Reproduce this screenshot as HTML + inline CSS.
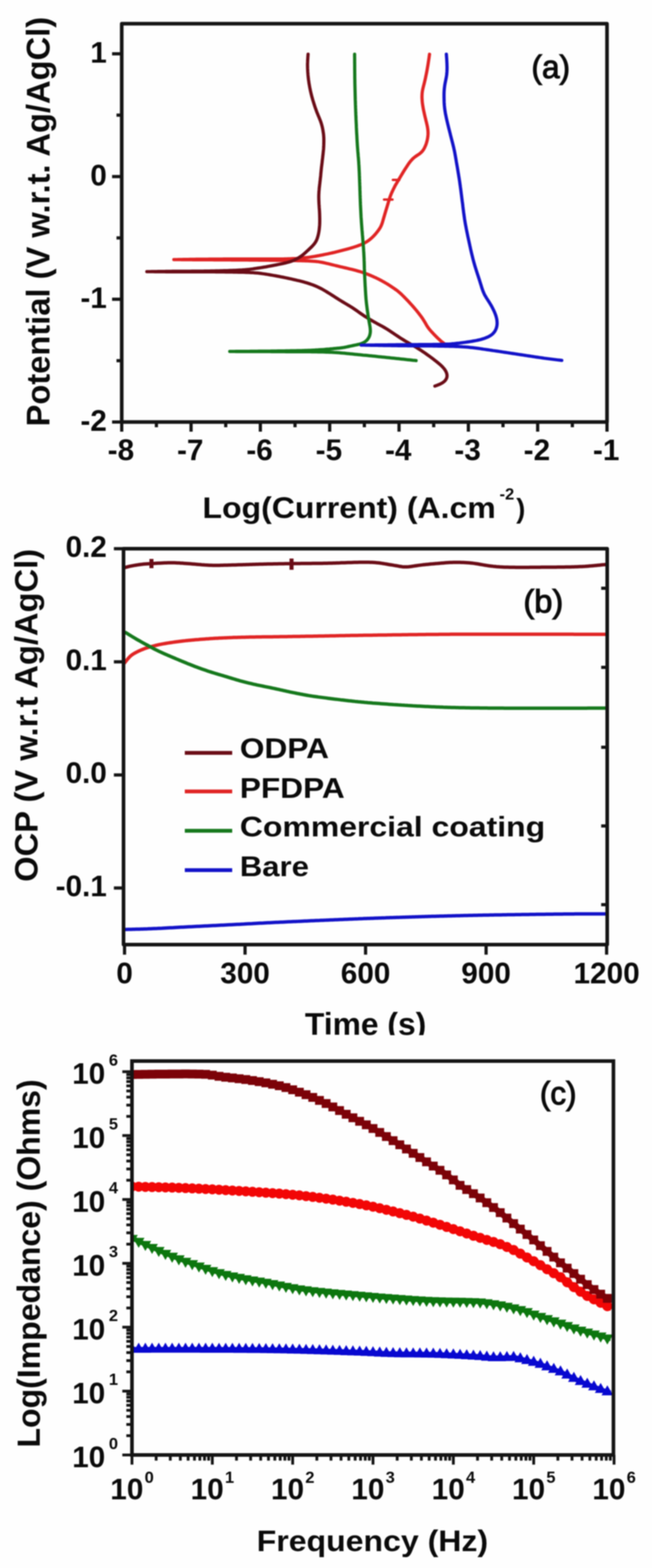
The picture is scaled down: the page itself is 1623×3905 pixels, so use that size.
<!DOCTYPE html>
<html><head><meta charset="utf-8"><title>Figure</title>
<style>html,body{margin:0;padding:0;background:#fff;}svg{display:block;filter:blur(1.7px);}</style></head>
<body><svg width="1623" height="3905" viewBox="0 0 1623 3905">
<rect width="1623" height="3905" fill="#fefefe"/>
<g fill="none" stroke-width="8" stroke-linecap="round" stroke-linejoin="round">
<path d="M1106.0,856.0 L1102.8,853.5 L1099.7,851.1 L1096.6,848.5 L1093.7,845.8 L1090.7,843.1 L1087.9,840.3 L1085.0,837.5 L1082.2,834.6 L1079.4,831.7 L1076.7,828.8 L1074.0,825.9 L1071.3,822.9 L1068.7,819.9 L1066.3,816.7 L1064.0,813.4 L1061.9,810.1 L1059.9,806.6 L1057.9,803.1 L1055.9,799.7 L1053.8,796.3 L1051.6,792.9 L1049.3,789.7 L1046.9,786.4 L1044.5,783.3 L1042.1,780.1 L1039.6,777.0 L1037.1,773.8 L1034.5,770.7 L1031.9,767.7 L1029.3,764.6 L1026.7,761.6 L1024.0,758.6 L1021.3,755.7 L1018.6,752.8 L1015.9,749.8 L1013.1,746.9 L1010.3,744.0 L1007.5,741.2 L1004.7,738.3 L1001.9,735.5 L999.0,732.7 L996.1,730.0 L993.1,727.4 L990.0,724.8 L986.8,722.4 L983.5,720.1 L980.2,717.8 L976.9,715.6 L973.6,713.4 L970.2,711.2 L966.9,709.0 L963.5,706.9 L960.0,704.9 L956.6,702.8 L953.1,700.9 L949.6,698.9 L946.0,697.1 L942.5,695.2 L938.9,693.5 L935.3,691.7 L931.6,690.1 L928.0,688.4 L924.3,686.8 L920.6,685.3 L916.9,683.8 L913.2,682.3 L909.5,680.9 L905.7,679.5 L901.9,678.2 L898.1,677.0 L894.2,675.9 L890.4,674.8 L886.5,673.7 L882.7,672.7 L878.8,671.7 L874.9,670.7 L871.0,669.8 L867.1,668.8 L863.2,667.9 L859.3,667.0 L855.4,666.1 L851.5,665.2 L847.6,664.3 L843.7,663.3 L839.8,662.4 L835.9,661.5 L832.0,660.5 L828.2,659.6 L824.3,658.6 L820.4,657.6 L816.5,656.7 L812.6,655.8 L808.7,654.9 L804.8,654.0 L800.9,653.3 L796.9,652.6 L793.0,651.9 L789.0,651.4 L785.0,651.0 L781.0,650.7 L777.0,650.4 L773.0,650.2 L769.0,650.0 L765.0,649.8 L761.0,649.7 L757.0,649.6 L753.0,649.4 L749.0,649.3 L745.0,649.3 L741.0,649.2 L737.0,649.1 L733.0,649.0 L729.0,648.9 L725.0,648.9 L721.0,648.8 L717.0,648.8 L713.0,648.7 L709.0,648.6 L705.0,648.6 L701.0,648.5 L697.0,648.5 L693.0,648.4 L689.0,648.4 L685.0,648.3 L681.0,648.3 L677.0,648.2 L673.0,648.2 L669.0,648.1 L665.0,648.1 L660.9,648.0 L656.9,648.0 L652.9,647.9 L648.9,647.9 L644.9,647.9 L640.9,647.8 L636.9,647.8 L632.9,647.8 L628.9,647.7 L624.9,647.7 L620.9,647.7 L616.9,647.6 L612.9,647.6 L608.9,647.6 L604.9,647.5 L600.9,647.5 L596.9,647.5 L592.9,647.5 L588.9,647.4 L584.9,647.4 L580.9,647.4 L576.9,647.4 L572.9,647.3 L568.8,647.3 L564.8,647.3 L560.8,647.3 L556.8,647.3 L552.8,647.2 L548.8,647.2 L544.8,647.2 L540.8,647.2 L536.8,647.2 L532.8,647.2 L528.8,647.1 L524.8,647.1 L520.8,647.1 L516.8,647.1 L512.8,647.1 L508.8,647.0 L504.8,647.0 L500.8,647.0 L496.8,647.0 L492.8,647.0 L488.8,646.9 L484.8,646.9 L480.8,646.9 L476.7,646.8 L472.7,646.8 L468.7,646.8 L464.7,646.8 L460.7,646.7 L456.7,646.7 L452.7,646.7 L448.7,646.6 L444.7,646.6 L440.7,646.6 L436.7,646.5 L432.7,646.5 L436.7,646.4 L440.7,646.4 L444.7,646.3 L448.7,646.2 L452.7,646.2 L456.7,646.1 L460.8,646.0 L464.8,646.0 L468.8,645.9 L472.8,645.8 L476.8,645.8 L480.8,645.7 L484.8,645.7 L488.8,645.6 L492.8,645.6 L496.8,645.5 L500.8,645.5 L504.8,645.5 L508.8,645.4 L512.8,645.4 L516.9,645.4 L520.9,645.3 L524.9,645.3 L528.9,645.3 L532.9,645.3 L536.9,645.2 L540.9,645.2 L544.9,645.2 L548.9,645.2 L552.9,645.2 L556.9,645.1 L560.9,645.1 L564.9,645.1 L569.0,645.1 L573.0,645.1 L577.0,645.1 L581.0,645.1 L585.0,645.0 L589.0,645.0 L593.0,645.0 L597.0,645.0 L601.0,645.0 L605.0,645.0 L609.0,645.0 L613.0,645.0 L617.0,645.0 L621.1,645.0 L625.1,645.0 L629.1,645.0 L633.1,645.0 L637.1,645.0 L641.1,645.1 L645.1,645.1 L649.1,645.1 L653.1,645.1 L657.1,645.1 L661.1,645.1 L665.1,645.1 L669.1,645.1 L673.2,645.1 L677.2,645.1 L681.2,645.1 L685.2,645.1 L689.2,645.1 L693.2,645.1 L697.2,645.0 L701.2,645.0 L705.2,644.9 L709.2,644.8 L713.2,644.7 L717.2,644.6 L721.2,644.5 L725.2,644.3 L729.2,644.1 L733.2,643.9 L737.2,643.7 L741.2,643.4 L745.2,643.1 L749.2,642.8 L753.2,642.4 L757.2,642.0 L761.2,641.6 L765.2,641.2 L769.2,640.7 L773.1,640.1 L777.1,639.5 L781.0,638.9 L785.0,638.2 L788.9,637.5 L792.9,636.8 L796.8,636.0 L800.8,635.3 L804.7,634.5 L808.6,633.7 L812.5,632.9 L816.5,632.1 L820.4,631.2 L824.3,630.4 L828.2,629.5 L832.1,628.6 L836.0,627.6 L839.9,626.7 L843.8,625.7 L847.7,624.7 L851.6,623.7 L855.4,622.7 L859.3,621.7 L863.2,620.6 L867.0,619.6 L870.9,618.5 L874.7,617.4 L878.6,616.2 L882.4,615.0 L886.2,613.8 L890.0,612.5 L893.8,611.1 L897.5,609.7 L901.2,608.1 L904.8,606.4 L908.4,604.6 L911.9,602.6 L915.2,600.5 L918.5,598.2 L921.6,595.7 L924.6,593.1 L927.5,590.4 L930.4,587.5 L933.1,584.6 L935.7,581.6 L938.2,578.5 L940.7,575.3 L943.0,572.1 L945.3,568.7 L947.3,565.3 L949.0,561.8 L950.5,558.1 L951.8,554.3 L952.9,550.5 L954.0,546.6 L955.1,542.8 L956.3,539.0 L957.4,535.1 L958.5,531.3 L959.7,527.4 L960.8,523.6 L962.0,519.8 L963.2,515.9 L964.3,512.1 L965.5,508.2 L966.6,504.4 L967.8,500.6 L968.9,496.7 L970.1,492.9 L971.4,489.1 L972.8,485.4 L974.3,481.7 L976.0,478.0 L977.7,474.4 L979.4,470.8 L981.2,467.2 L983.0,463.6 L985.0,460.1 L987.0,456.7 L989.0,453.2 L991.1,449.8 L993.1,446.3 L995.2,442.9 L997.2,439.5 L999.3,436.0 L1001.3,432.6 L1003.4,429.1 L1005.5,425.7 L1007.6,422.3 L1009.8,419.0 L1012.0,415.6 L1014.2,412.3 L1016.4,408.9 L1018.7,405.7 L1021.1,402.5 L1023.7,399.4 L1026.4,396.5 L1029.3,393.7 L1032.3,391.2 L1035.6,388.9 L1038.9,386.7 L1042.2,384.5 L1045.4,382.2 L1048.4,379.6 L1051.1,376.8 L1053.5,373.6 L1055.6,370.3 L1057.4,366.7 L1059.0,363.1 L1060.5,359.4 L1061.7,355.6 L1062.8,351.7 L1063.7,347.8 L1064.4,343.9 L1065.0,340.0 L1065.3,336.0 L1065.5,332.0 L1065.4,328.0 L1065.1,324.0 L1064.6,320.1 L1064.0,316.1 L1063.2,312.2 L1062.3,308.3 L1061.4,304.4 L1060.4,300.5 L1059.5,296.6 L1058.5,292.7 L1057.6,288.8 L1056.7,284.9 L1055.8,281.0 L1055.0,277.1 L1054.1,273.2 L1053.4,269.2 L1052.7,265.3 L1052.1,261.3 L1051.5,257.4 L1051.1,253.4 L1050.8,249.4 L1050.5,245.4 L1050.4,241.4 L1050.5,237.4 L1050.7,233.4 L1051.1,229.5 L1051.7,225.5 L1052.5,221.6 L1053.4,217.7 L1054.4,213.8 L1055.4,209.9 L1056.4,206.1 L1057.3,202.2 L1058.2,198.3 L1059.1,194.3 L1059.9,190.4 L1060.7,186.5 L1061.5,182.6 L1062.3,178.6 L1063.0,174.7 L1063.7,170.7 L1064.4,166.8 L1065.1,162.8 L1065.7,158.9 L1066.3,154.9 L1066.9,151.0 L1067.5,147.0 L1068.1,143.0 L1068.6,139.1 L1069.2,135.1 L1069.2,135.1" stroke="#e02424"/>
<path d="M1082.5,961.6 L1086.3,960.2 L1090.0,958.8 L1093.7,957.3 L1097.3,955.6 L1100.8,953.7 L1104.0,951.5 L1107.0,949.0 L1109.4,946.0 L1111.3,942.8 L1112.5,939.2 L1112.8,935.5 L1112.4,931.8 L1111.3,928.1 L1109.7,924.6 L1107.7,921.2 L1105.3,918.0 L1102.7,915.0 L1100.0,912.1 L1097.1,909.3 L1094.1,906.7 L1091.0,904.1 L1087.9,901.6 L1084.8,899.1 L1081.6,896.7 L1078.4,894.2 L1075.2,891.8 L1072.0,889.4 L1068.8,887.1 L1065.5,884.7 L1062.2,882.4 L1059.0,880.1 L1055.7,877.8 L1052.4,875.6 L1049.0,873.3 L1045.7,871.1 L1042.3,869.0 L1038.9,866.8 L1035.5,864.7 L1032.1,862.7 L1028.6,860.6 L1025.2,858.6 L1021.7,856.6 L1018.2,854.6 L1014.8,852.6 L1011.3,850.6 L1007.8,848.6 L1004.4,846.5 L1001.0,844.4 L997.6,842.3 L994.2,840.1 L990.9,837.9 L987.5,835.7 L984.2,833.5 L980.9,831.2 L977.6,829.0 L974.3,826.8 L970.9,824.5 L967.6,822.3 L964.2,820.2 L960.8,818.1 L957.3,816.0 L953.9,814.0 L950.4,812.1 L946.9,810.2 L943.3,808.3 L939.8,806.4 L936.3,804.4 L932.8,802.5 L929.3,800.5 L925.9,798.5 L922.4,796.4 L919.0,794.4 L915.5,792.3 L912.1,790.2 L908.7,788.1 L905.4,785.9 L902.1,783.7 L898.8,781.4 L895.5,779.1 L892.2,776.8 L889.0,774.4 L885.7,772.1 L882.4,769.9 L879.1,767.6 L875.7,765.4 L872.3,763.3 L868.9,761.2 L865.4,759.2 L862.0,757.1 L858.6,755.1 L855.1,753.0 L851.7,751.0 L848.3,748.9 L844.9,746.8 L841.5,744.6 L838.1,742.5 L834.7,740.3 L831.4,738.1 L828.0,736.0 L824.6,733.8 L821.2,731.7 L817.8,729.6 L814.4,727.5 L811.0,725.4 L807.5,723.4 L804.1,721.4 L800.6,719.4 L797.0,717.6 L793.4,715.8 L789.8,714.1 L786.1,712.5 L782.4,711.0 L778.7,709.5 L774.9,708.2 L771.1,706.9 L767.3,705.6 L763.5,704.4 L759.7,703.3 L755.8,702.2 L752.0,701.1 L748.1,700.1 L744.2,699.2 L740.3,698.3 L736.4,697.3 L732.5,696.5 L728.6,695.6 L724.7,694.7 L720.8,693.8 L716.8,693.0 L712.9,692.2 L709.0,691.3 L705.1,690.5 L701.1,689.8 L697.2,689.0 L693.3,688.2 L689.3,687.5 L685.4,686.8 L681.5,686.1 L677.5,685.4 L673.6,684.7 L669.6,684.0 L665.7,683.4 L661.7,682.7 L657.7,682.1 L653.8,681.6 L649.8,681.0 L645.8,680.5 L641.9,680.1 L637.9,679.7 L633.9,679.4 L629.9,679.1 L625.9,678.9 L621.9,678.7 L617.9,678.5 L613.9,678.4 L609.9,678.3 L605.9,678.1 L601.9,678.1 L597.9,678.0 L593.8,677.9 L589.8,677.8 L585.8,677.7 L581.8,677.7 L577.8,677.6 L573.8,677.5 L569.8,677.5 L565.8,677.4 L561.8,677.4 L557.8,677.3 L553.8,677.3 L549.8,677.3 L545.8,677.2 L541.8,677.2 L537.8,677.2 L533.8,677.1 L529.8,677.1 L525.7,677.1 L521.7,677.0 L517.7,677.0 L513.7,677.0 L509.7,677.0 L505.7,677.0 L501.7,677.0 L497.7,676.9 L493.7,676.9 L489.7,676.9 L485.7,677.0 L481.7,677.0 L477.7,677.0 L473.7,677.0 L469.7,677.0 L465.7,677.0 L461.6,677.0 L457.6,677.0 L453.6,677.0 L449.6,677.0 L445.6,677.0 L441.6,677.0 L437.6,677.0 L433.6,677.0 L429.6,677.0 L425.6,676.9 L421.6,676.9 L417.6,676.9 L413.6,676.9 L409.6,676.8 L405.6,676.8 L401.6,676.8 L397.5,676.7 L393.5,676.7 L389.5,676.7 L385.5,676.7 L381.5,676.6 L377.5,676.6 L373.5,676.6 L369.5,676.5 L365.5,676.5 L369.5,676.4 L373.5,676.4 L377.5,676.3 L381.5,676.3 L385.5,676.2 L389.5,676.2 L393.5,676.1 L397.5,676.0 L401.5,676.0 L405.5,675.9 L409.5,675.9 L413.5,675.8 L417.5,675.8 L421.5,675.7 L425.5,675.7 L429.5,675.6 L433.5,675.6 L437.5,675.5 L441.5,675.5 L445.5,675.5 L449.5,675.4 L453.5,675.4 L457.5,675.4 L461.5,675.4 L465.5,675.4 L469.5,675.4 L473.5,675.4 L477.5,675.3 L481.5,675.3 L485.5,675.3 L489.5,675.3 L493.5,675.3 L497.5,675.2 L501.5,675.2 L505.5,675.2 L509.5,675.1 L513.5,675.0 L517.5,675.0 L521.5,674.9 L525.5,674.8 L529.5,674.7 L533.5,674.7 L537.5,674.6 L541.5,674.5 L545.5,674.4 L549.5,674.3 L553.5,674.2 L557.5,674.1 L561.5,674.0 L565.5,673.9 L569.5,673.7 L573.5,673.6 L577.5,673.5 L581.5,673.3 L585.5,673.2 L589.5,673.0 L593.5,672.8 L597.5,672.6 L601.5,672.4 L605.5,672.1 L609.5,671.8 L613.5,671.4 L617.5,671.1 L621.4,670.6 L625.4,670.1 L629.4,669.6 L633.3,669.0 L637.3,668.4 L641.3,667.8 L645.2,667.2 L649.2,666.6 L653.1,666.0 L657.1,665.3 L661.0,664.7 L664.9,664.0 L668.9,663.2 L672.8,662.5 L676.7,661.8 L680.7,661.0 L684.6,660.2 L688.5,659.5 L692.5,658.7 L696.4,657.9 L700.3,657.1 L704.2,656.3 L708.1,655.4 L712.0,654.5 L715.9,653.5 L719.7,652.4 L723.5,651.2 L727.3,649.9 L731.0,648.4 L734.6,646.7 L738.2,644.9 L741.7,643.0 L745.1,640.9 L748.4,638.7 L751.6,636.4 L754.8,633.9 L757.8,631.3 L760.8,628.7 L763.7,625.9 L766.7,623.2 L769.6,620.5 L772.5,617.8 L775.4,615.0 L778.2,612.1 L780.8,609.2 L783.3,606.0 L785.5,602.7 L787.4,599.3 L789.0,595.7 L790.3,591.9 L791.4,588.1 L792.4,584.2 L793.2,580.3 L793.9,576.4 L794.5,572.4 L794.9,568.5 L795.3,564.5 L795.6,560.5 L795.8,556.5 L795.9,552.5 L795.9,548.5 L795.9,544.5 L795.8,540.5 L795.7,536.5 L795.6,532.5 L795.4,528.5 L795.2,524.5 L794.9,520.5 L794.6,516.5 L794.4,512.5 L794.1,508.5 L793.9,504.5 L793.7,500.5 L793.6,496.5 L793.5,492.5 L793.5,488.5 L793.6,484.6 L793.8,480.6 L794.0,476.6 L794.4,472.6 L794.7,468.6 L795.2,464.6 L795.6,460.6 L796.1,456.7 L796.5,452.7 L797.0,448.7 L797.4,444.7 L797.9,440.8 L798.3,436.8 L798.6,432.8 L799.0,428.8 L799.4,424.8 L799.8,420.9 L800.2,416.9 L800.7,412.9 L801.2,408.9 L801.7,405.0 L802.1,401.0 L802.6,397.0 L803.1,393.0 L803.5,389.1 L804.0,385.1 L804.4,381.1 L804.8,377.1 L805.2,373.1 L805.5,369.2 L805.7,365.2 L805.9,361.2 L806.0,357.2 L806.1,353.2 L806.1,349.2 L806.1,345.2 L805.9,341.2 L805.6,337.2 L805.2,333.2 L804.6,329.3 L804.0,325.3 L803.3,321.4 L802.5,317.5 L801.5,313.6 L800.5,309.7 L799.3,305.9 L798.0,302.1 L796.6,298.4 L795.1,294.7 L793.6,291.0 L792.0,287.3 L790.5,283.6 L789.0,279.9 L787.6,276.1 L786.3,272.4 L784.9,268.6 L783.6,264.8 L782.4,261.0 L781.2,257.2 L780.0,253.4 L778.8,249.6 L777.7,245.7 L776.6,241.9 L775.6,238.0 L774.6,234.1 L773.7,230.2 L772.8,226.3 L772.0,222.4 L771.2,218.5 L770.5,214.6 L769.8,210.6 L769.1,206.7 L768.6,202.7 L768.0,198.8 L767.5,194.8 L767.1,190.8 L766.7,186.8 L766.4,182.8 L766.1,178.8 L765.9,174.9 L765.7,170.9 L765.6,166.9 L765.5,162.9 L765.5,158.9 L765.7,154.9 L765.8,150.9 L766.1,146.9 L766.3,142.9 L766.6,138.9 L766.9,134.9 L766.9,134.9" stroke="#6a0c16"/>
<path d="M1035.8,898.0 L1031.8,897.6 L1027.8,897.2 L1023.8,896.7 L1019.9,896.3 L1015.9,895.9 L1011.9,895.5 L1007.9,895.0 L1003.9,894.6 L999.9,894.2 L995.9,893.8 L992.0,893.3 L988.0,892.9 L984.0,892.5 L980.0,892.1 L976.0,891.7 L972.0,891.3 L968.0,890.8 L964.1,890.4 L960.1,890.0 L956.1,889.6 L952.1,889.2 L948.1,888.8 L944.1,888.4 L940.1,888.0 L936.1,887.5 L932.2,887.1 L928.2,886.7 L924.2,886.3 L920.2,885.9 L916.2,885.5 L912.2,885.1 L908.2,884.7 L904.2,884.4 L900.2,884.0 L896.3,883.6 L892.3,883.2 L888.3,882.8 L884.3,882.4 L880.3,882.0 L876.3,881.6 L872.3,881.2 L868.3,880.8 L864.4,880.4 L860.4,880.0 L856.4,879.6 L852.4,879.3 L848.4,878.9 L844.4,878.6 L840.4,878.3 L836.4,878.0 L832.4,877.8 L828.4,877.5 L824.4,877.3 L820.4,877.2 L816.4,877.0 L812.4,876.9 L808.4,876.7 L804.4,876.6 L800.4,876.5 L796.4,876.4 L792.3,876.4 L788.3,876.3 L784.3,876.2 L780.3,876.2 L776.3,876.2 L772.3,876.1 L768.3,876.1 L764.3,876.1 L760.3,876.0 L756.3,876.0 L752.3,876.0 L748.3,876.0 L744.3,876.0 L740.2,876.0 L736.2,875.9 L732.2,875.9 L728.2,875.9 L724.2,875.9 L720.2,875.9 L716.2,875.9 L712.2,875.9 L708.2,875.8 L704.2,875.8 L700.2,875.8 L696.2,875.8 L692.1,875.8 L688.1,875.7 L684.1,875.7 L680.1,875.7 L676.1,875.7 L672.1,875.6 L668.1,875.6 L664.1,875.6 L660.1,875.6 L656.1,875.6 L652.1,875.6 L648.1,875.5 L644.0,875.5 L640.0,875.5 L636.0,875.5 L632.0,875.5 L628.0,875.5 L624.0,875.5 L620.0,875.5 L616.0,875.4 L612.0,875.4 L608.0,875.4 L604.0,875.4 L600.0,875.4 L596.0,875.4 L591.9,875.4 L587.9,875.4 L583.9,875.3 L579.9,875.3 L575.9,875.3 L571.9,875.3 L571.9,875.3 L575.9,875.2 L579.9,875.2 L583.9,875.2 L587.9,875.1 L591.9,875.1 L595.9,875.1 L599.9,875.0 L603.9,875.0 L607.9,875.0 L611.9,874.9 L615.9,874.9 L619.9,874.9 L623.9,874.8 L627.9,874.8 L631.9,874.8 L635.9,874.7 L639.9,874.7 L643.9,874.6 L647.9,874.6 L651.9,874.6 L655.9,874.5 L659.9,874.5 L663.9,874.4 L667.9,874.4 L671.9,874.4 L675.9,874.3 L679.9,874.3 L683.9,874.2 L687.9,874.2 L691.9,874.1 L695.9,874.1 L699.9,874.0 L704.0,873.9 L708.0,873.9 L712.0,873.8 L716.0,873.8 L720.0,873.7 L724.0,873.6 L728.0,873.6 L732.0,873.5 L736.0,873.4 L740.0,873.3 L744.0,873.3 L748.0,873.2 L752.0,873.1 L756.0,872.9 L760.0,872.8 L764.0,872.7 L768.0,872.5 L772.0,872.4 L776.0,872.2 L780.0,872.0 L783.9,871.8 L787.9,871.5 L791.9,871.3 L795.9,871.0 L799.9,870.7 L803.9,870.5 L807.9,870.2 L811.9,869.8 L815.9,869.5 L819.9,869.2 L823.9,868.8 L827.8,868.5 L831.8,868.1 L835.8,867.7 L839.8,867.3 L843.8,866.9 L847.7,866.5 L851.7,866.0 L855.7,865.4 L859.6,864.7 L863.5,863.9 L867.4,863.0 L871.3,862.1 L875.2,861.3 L879.1,860.5 L883.1,859.7 L887.0,858.9 L890.9,858.0 L894.8,857.1 L898.6,856.0 L902.3,854.6 L905.8,852.9 L909.1,850.8 L912.1,848.3 L914.8,845.4 L917.0,842.3 L918.9,838.8 L920.3,835.2 L921.2,831.4 L921.8,827.5 L921.9,823.5 L921.7,819.6 L921.3,815.6 L920.7,811.7 L920.0,807.7 L919.3,803.8 L918.6,799.9 L917.9,795.9 L917.2,792.0 L916.6,788.0 L916.0,784.1 L915.5,780.1 L914.9,776.1 L914.3,772.2 L913.8,768.2 L913.3,764.2 L912.8,760.3 L912.3,756.3 L911.9,752.3 L911.5,748.3 L911.1,744.4 L910.8,740.4 L910.5,736.4 L910.2,732.4 L910.0,728.4 L909.7,724.4 L909.5,720.4 L909.3,716.4 L909.0,712.4 L908.8,708.4 L908.6,704.4 L908.4,700.4 L908.2,696.4 L908.0,692.4 L907.8,688.4 L907.6,684.4 L907.4,680.4 L907.3,676.4 L907.2,672.4 L907.0,668.4 L906.9,664.4 L906.8,660.4 L906.7,656.4 L906.6,652.4 L906.4,648.4 L906.3,644.4 L906.1,640.4 L905.9,636.4 L905.7,632.4 L905.5,628.5 L905.2,624.5 L905.0,620.5 L904.7,616.5 L904.4,612.5 L904.1,608.5 L903.8,604.5 L903.4,600.5 L903.1,596.5 L902.8,592.5 L902.5,588.6 L902.1,584.6 L901.8,580.6 L901.5,576.6 L901.1,572.6 L900.8,568.6 L900.5,564.6 L900.2,560.6 L899.9,556.6 L899.6,552.6 L899.4,548.7 L899.1,544.7 L898.8,540.7 L898.6,536.7 L898.4,532.7 L898.2,528.7 L898.0,524.7 L897.8,520.7 L897.6,516.7 L897.4,512.7 L897.2,508.7 L897.1,504.7 L896.9,500.7 L896.8,496.7 L896.6,492.7 L896.5,488.7 L896.3,484.7 L896.2,480.7 L896.1,476.7 L895.9,472.7 L895.8,468.7 L895.7,464.7 L895.5,460.7 L895.4,456.7 L895.2,452.7 L895.1,448.7 L894.9,444.7 L894.8,440.7 L894.6,436.7 L894.5,432.7 L894.3,428.7 L894.1,424.7 L893.9,420.7 L893.7,416.7 L893.5,412.7 L893.2,408.7 L893.0,404.7 L892.7,400.8 L892.4,396.8 L892.1,392.8 L891.7,388.8 L891.4,384.8 L891.1,380.8 L890.7,376.8 L890.4,372.8 L890.1,368.8 L889.8,364.9 L889.5,360.9 L889.3,356.9 L889.0,352.9 L888.8,348.9 L888.6,344.9 L888.4,340.9 L888.2,336.9 L887.9,332.9 L887.7,328.9 L887.5,324.9 L887.3,320.9 L887.1,316.9 L887.0,312.9 L886.8,308.9 L886.6,304.9 L886.4,300.9 L886.2,296.9 L886.1,292.9 L885.9,288.9 L885.7,284.9 L885.6,280.9 L885.4,276.9 L885.3,272.9 L885.1,268.9 L885.0,264.9 L884.8,260.9 L884.7,256.9 L884.6,252.9 L884.4,248.9 L884.3,244.9 L884.2,240.9 L884.1,236.9 L884.0,232.9 L883.9,228.9 L883.8,224.9 L883.7,220.9 L883.6,216.9 L883.5,212.9 L883.4,208.9 L883.3,204.9 L883.3,200.9 L883.2,196.9 L883.1,192.9 L883.1,188.9 L883.1,184.9 L883.0,180.9 L883.0,176.9 L882.9,172.9 L882.9,168.9 L882.9,164.9 L882.9,160.9 L882.8,156.9 L882.8,152.9 L882.8,148.9 L882.8,144.9 L882.7,140.9 L882.7,136.9 L882.7,134.9" stroke="#15781c"/>
<path d="M1398.4,897.5 L1394.4,897.0 L1390.4,896.6 L1386.4,896.1 L1382.5,895.6 L1378.5,895.1 L1374.5,894.6 L1370.5,894.1 L1366.5,893.6 L1362.5,893.1 L1358.6,892.6 L1354.6,892.1 L1350.6,891.5 L1346.6,890.9 L1342.7,890.4 L1338.7,889.8 L1334.7,889.2 L1330.7,888.6 L1326.8,888.0 L1322.8,887.4 L1318.8,886.8 L1314.9,886.2 L1310.9,885.6 L1306.9,885.0 L1303.0,884.4 L1299.0,883.8 L1295.0,883.2 L1291.0,882.6 L1287.1,882.0 L1283.1,881.4 L1279.1,880.8 L1275.2,880.2 L1271.2,879.6 L1267.2,879.0 L1263.3,878.4 L1259.3,877.8 L1255.3,877.2 L1251.4,876.6 L1247.4,876.0 L1243.4,875.4 L1239.4,874.8 L1235.5,874.2 L1231.5,873.6 L1227.5,873.1 L1223.6,872.5 L1219.6,871.9 L1215.6,871.3 L1211.6,870.7 L1207.7,870.1 L1203.7,869.6 L1199.7,869.0 L1195.8,868.4 L1191.8,867.8 L1187.8,867.3 L1183.8,866.8 L1179.8,866.3 L1175.8,865.8 L1171.9,865.4 L1167.9,865.0 L1163.9,864.6 L1159.9,864.2 L1155.9,863.9 L1151.9,863.7 L1147.9,863.4 L1143.8,863.2 L1139.8,863.0 L1135.8,862.9 L1131.8,862.7 L1127.8,862.6 L1123.8,862.5 L1119.8,862.4 L1115.8,862.3 L1111.7,862.2 L1107.7,862.2 L1103.7,862.1 L1099.7,862.0 L1095.7,861.9 L1091.7,861.9 L1087.7,861.8 L1083.7,861.7 L1079.6,861.7 L1075.6,861.6 L1071.6,861.6 L1067.6,861.6 L1063.6,861.5 L1059.6,861.5 L1055.6,861.5 L1051.5,861.4 L1047.5,861.4 L1043.5,861.4 L1039.5,861.3 L1035.5,861.3 L1031.5,861.3 L1027.5,861.3 L1023.4,861.2 L1019.4,861.2 L1015.4,861.2 L1011.4,861.1 L1007.4,861.1 L1003.4,861.0 L999.4,861.0 L995.3,860.9 L991.3,860.9 L987.3,860.8 L983.3,860.8 L979.3,860.7 L975.3,860.7 L971.3,860.6 L967.2,860.5 L963.2,860.5 L959.2,860.4 L955.2,860.4 L951.2,860.3 L947.2,860.2 L943.2,860.2 L939.1,860.1 L935.1,860.1 L931.1,860.0 L927.1,859.9 L923.1,859.9 L919.1,859.8 L915.1,859.7 L911.0,859.7 L907.0,859.6 L903.0,859.6 L899.0,859.5 L903.0,859.5 L907.0,859.4 L911.0,859.4 L915.0,859.3 L919.0,859.3 L923.0,859.3 L927.0,859.2 L931.0,859.2 L935.0,859.1 L939.0,859.1 L943.0,859.1 L947.0,859.0 L951.0,859.0 L955.0,858.9 L959.0,858.9 L963.0,858.9 L967.0,858.8 L971.0,858.8 L975.0,858.7 L979.0,858.7 L983.0,858.7 L987.0,858.6 L991.0,858.6 L995.0,858.6 L999.0,858.5 L1003.0,858.5 L1007.0,858.4 L1011.0,858.4 L1015.0,858.4 L1019.0,858.3 L1023.0,858.3 L1027.0,858.3 L1031.0,858.2 L1035.0,858.2 L1039.0,858.2 L1043.0,858.1 L1047.0,858.1 L1051.0,858.1 L1055.0,858.0 L1059.0,858.0 L1063.0,858.0 L1067.0,857.9 L1071.0,857.9 L1075.0,857.9 L1079.0,857.8 L1083.0,857.8 L1087.0,857.7 L1091.0,857.7 L1095.0,857.6 L1099.0,857.5 L1103.0,857.4 L1107.0,857.3 L1111.0,857.1 L1115.0,856.9 L1119.0,856.7 L1123.0,856.4 L1127.0,856.0 L1130.9,855.7 L1134.9,855.3 L1138.9,854.8 L1142.9,854.4 L1146.8,853.9 L1150.8,853.4 L1154.8,852.9 L1158.7,852.4 L1162.7,851.8 L1166.7,851.2 L1170.6,850.6 L1174.6,850.0 L1178.5,849.3 L1182.4,848.6 L1186.4,847.9 L1190.3,847.0 L1194.2,846.1 L1198.0,845.1 L1201.9,843.9 L1205.7,842.7 L1209.4,841.3 L1213.1,839.8 L1216.7,838.1 L1220.1,836.2 L1223.4,834.0 L1226.4,831.5 L1229.1,828.6 L1231.5,825.5 L1233.4,822.1 L1235.0,818.5 L1236.2,814.7 L1237.0,810.9 L1237.4,807.0 L1237.4,803.0 L1237.1,799.1 L1236.6,795.1 L1235.7,791.2 L1234.7,787.4 L1233.4,783.6 L1232.0,779.9 L1230.5,776.2 L1228.8,772.6 L1227.0,769.0 L1225.2,765.4 L1223.3,761.9 L1221.3,758.5 L1219.2,755.0 L1217.1,751.6 L1215.0,748.3 L1212.8,744.9 L1210.6,741.6 L1208.6,738.1 L1206.6,734.7 L1204.9,731.1 L1203.3,727.4 L1201.8,723.7 L1200.5,719.9 L1199.2,716.1 L1198.1,712.3 L1196.9,708.5 L1195.7,704.7 L1194.5,700.9 L1193.3,697.0 L1192.1,693.2 L1190.8,689.4 L1189.6,685.6 L1188.3,681.8 L1187.1,678.0 L1185.9,674.2 L1184.7,670.4 L1183.5,666.6 L1182.3,662.8 L1181.2,658.9 L1180.1,655.1 L1179.0,651.2 L1178.0,647.4 L1177.0,643.5 L1176.0,639.6 L1175.1,635.7 L1174.1,631.8 L1173.2,627.9 L1172.3,624.0 L1171.4,620.1 L1170.6,616.2 L1169.7,612.3 L1168.9,608.4 L1168.0,604.5 L1167.2,600.6 L1166.3,596.7 L1165.5,592.8 L1164.6,588.9 L1163.8,585.0 L1163.0,581.0 L1162.2,577.1 L1161.4,573.2 L1160.6,569.3 L1159.9,565.3 L1159.1,561.4 L1158.4,557.5 L1157.7,553.5 L1157.1,549.6 L1156.4,545.6 L1155.9,541.7 L1155.3,537.7 L1154.8,533.8 L1154.2,529.8 L1153.7,525.8 L1153.2,521.9 L1152.7,517.9 L1152.2,513.9 L1151.8,509.9 L1151.3,506.0 L1150.7,502.0 L1150.2,498.0 L1149.7,494.1 L1149.2,490.1 L1148.7,486.1 L1148.2,482.2 L1147.7,478.2 L1147.2,474.2 L1146.7,470.3 L1146.1,466.3 L1145.6,462.3 L1145.0,458.4 L1144.5,454.4 L1143.9,450.5 L1143.3,446.5 L1142.7,442.6 L1142.0,438.6 L1141.4,434.7 L1140.7,430.7 L1140.1,426.8 L1139.4,422.8 L1138.8,418.9 L1138.1,414.9 L1137.4,411.0 L1136.7,407.0 L1136.0,403.1 L1135.4,399.2 L1134.7,395.2 L1134.0,391.3 L1133.3,387.3 L1132.6,383.4 L1131.9,379.5 L1131.1,375.5 L1130.2,371.6 L1129.4,367.7 L1128.4,363.8 L1127.5,360.0 L1126.5,356.1 L1125.5,352.2 L1124.5,348.3 L1123.5,344.5 L1122.5,340.6 L1121.5,336.7 L1120.6,332.8 L1119.6,329.0 L1118.6,325.1 L1117.6,321.2 L1116.6,317.3 L1115.7,313.4 L1114.7,309.5 L1113.8,305.7 L1112.9,301.8 L1112.0,297.9 L1111.1,294.0 L1110.3,290.0 L1109.5,286.1 L1108.7,282.2 L1108.1,278.3 L1107.5,274.3 L1106.9,270.3 L1106.5,266.4 L1106.1,262.4 L1105.8,258.4 L1105.6,254.4 L1105.5,250.4 L1105.4,246.4 L1105.3,242.4 L1105.3,238.4 L1105.3,234.4 L1105.4,230.4 L1105.6,226.4 L1105.9,222.4 L1106.3,218.5 L1106.8,214.5 L1107.4,210.5 L1108.1,206.6 L1108.9,202.7 L1109.7,198.8 L1110.5,194.9 L1111.2,190.9 L1111.8,187.0 L1112.2,183.0 L1112.5,179.0 L1112.7,175.0 L1112.8,171.0 L1112.8,167.0 L1112.7,163.0 L1112.6,159.0 L1112.4,155.1 L1112.2,151.1 L1112.0,147.1 L1111.7,143.1 L1111.4,139.1 L1111.1,135.1 L1111.1,135.1" stroke="#1212c8"/>
<path d="M978,448H994M956,497H977" stroke="#e02424" stroke-width="6"/>
</g>
<rect x="303" y="59" width="1208" height="992" fill="none" stroke="#141414" stroke-width="9" stroke-linejoin="round"/>
<path d="M303.0,1051V1075 M389.3,1051V1064 M475.6,1051V1075 M561.9,1051V1064 M648.1,1051V1075 M734.4,1051V1064 M820.7,1051V1075 M907.0,1051V1064 M993.3,1051V1075 M1079.6,1051V1064 M1165.9,1051V1075 M1252.1,1051V1064 M1338.4,1051V1075 M1424.7,1051V1064 M1511.0,1051V1075 M303,134.0H279 M303,439.7H279 M303,745.3H279 M303,1051.0H279 M303,286.8H290 M303,592.5H290 M303,898.2H290" stroke="#141414" stroke-width="8" fill="none"/>
<g fill="none" stroke-width="8.5" stroke-linejoin="round">
<path d="M311.0,1413.4 L314.9,1412.4 L318.7,1411.4 L322.6,1410.4 L326.5,1409.6 L330.5,1408.8 L334.4,1408.1 L338.4,1407.5 L342.3,1406.9 L346.3,1406.3 L350.2,1405.7 L354.2,1405.3 L358.2,1404.8 L362.2,1404.5 L366.2,1404.2 L370.2,1403.9 L374.2,1403.7 L378.2,1403.5 L382.2,1403.3 L386.1,1403.1 L390.1,1402.8 L394.1,1402.6 L398.1,1402.4 L402.1,1402.2 L406.1,1402.0 L410.1,1401.8 L414.1,1401.7 L418.1,1401.5 L422.1,1401.5 L426.1,1401.4 L430.1,1401.5 L434.1,1401.6 L438.1,1401.7 L442.1,1401.9 L446.1,1402.1 L450.1,1402.4 L454.1,1402.6 L458.1,1402.9 L462.1,1403.2 L466.1,1403.5 L470.1,1403.8 L474.1,1404.1 L478.1,1404.4 L482.1,1404.7 L486.0,1405.1 L490.0,1405.4 L494.0,1405.8 L498.0,1406.1 L502.0,1406.5 L506.0,1406.8 L510.0,1407.1 L514.0,1407.3 L518.0,1407.5 L522.0,1407.7 L526.0,1407.8 L530.0,1407.9 L534.0,1407.9 L538.0,1408.0 L542.0,1407.9 L546.0,1407.9 L550.0,1407.8 L554.0,1407.7 L558.0,1407.6 L562.0,1407.5 L566.0,1407.4 L570.0,1407.3 L574.0,1407.2 L578.0,1407.1 L582.0,1407.0 L586.0,1406.9 L590.0,1406.7 L594.0,1406.6 L598.0,1406.5 L602.0,1406.4 L606.0,1406.3 L610.0,1406.2 L614.0,1406.0 L618.0,1405.9 L622.0,1405.8 L626.0,1405.7 L630.0,1405.5 L634.0,1405.4 L638.0,1405.3 L642.0,1405.2 L646.0,1405.1 L650.0,1405.0 L654.0,1404.9 L658.0,1404.8 L662.0,1404.7 L666.0,1404.6 L670.0,1404.6 L674.0,1404.5 L678.0,1404.4 L682.0,1404.3 L686.0,1404.2 L690.0,1404.2 L694.0,1404.1 L698.0,1404.0 L702.0,1404.0 L706.0,1403.9 L710.0,1403.8 L714.0,1403.8 L718.0,1403.7 L722.0,1403.7 L726.0,1403.6 L730.0,1403.5 L734.1,1403.5 L738.1,1403.5 L742.1,1403.4 L746.1,1403.4 L750.1,1403.3 L754.1,1403.3 L758.1,1403.3 L762.1,1403.3 L766.1,1403.2 L770.1,1403.2 L774.1,1403.2 L778.1,1403.1 L782.1,1403.1 L786.1,1403.1 L790.1,1403.0 L794.1,1403.0 L798.1,1402.9 L802.1,1402.9 L806.1,1402.8 L810.1,1402.7 L814.1,1402.7 L818.1,1402.6 L822.1,1402.5 L826.1,1402.4 L830.1,1402.3 L834.1,1402.2 L838.1,1402.0 L842.1,1401.9 L846.1,1401.8 L850.1,1401.6 L854.1,1401.5 L858.1,1401.4 L862.1,1401.2 L866.1,1401.1 L870.1,1401.0 L874.1,1400.9 L878.1,1400.7 L882.1,1400.6 L886.1,1400.5 L890.1,1400.4 L894.1,1400.3 L898.1,1400.3 L902.1,1400.2 L906.1,1400.2 L910.1,1400.2 L914.1,1400.2 L918.1,1400.3 L922.1,1400.4 L926.1,1400.5 L930.1,1400.8 L934.1,1401.1 L938.1,1401.4 L942.1,1401.8 L946.1,1402.3 L950.0,1402.9 L954.0,1403.5 L957.9,1404.1 L961.9,1404.8 L965.8,1405.5 L969.8,1406.2 L973.7,1406.8 L977.7,1407.4 L981.6,1408.1 L985.6,1408.7 L989.5,1409.4 L993.4,1410.2 L997.4,1410.8 L1001.3,1411.4 L1005.3,1411.7 L1009.3,1411.8 L1013.3,1411.7 L1017.3,1411.5 L1021.3,1411.1 L1025.2,1410.5 L1029.2,1409.9 L1033.1,1409.3 L1037.1,1408.7 L1041.1,1408.1 L1045.0,1407.6 L1049.0,1407.1 L1053.0,1406.6 L1057.0,1406.2 L1060.9,1405.8 L1064.9,1405.4 L1068.9,1405.0 L1072.9,1404.6 L1076.9,1404.3 L1080.9,1403.9 L1084.8,1403.6 L1088.8,1403.3 L1092.8,1402.9 L1096.8,1402.6 L1100.8,1402.2 L1104.8,1401.9 L1108.8,1401.6 L1112.8,1401.3 L1116.8,1401.0 L1120.8,1400.8 L1124.8,1400.7 L1128.8,1400.6 L1132.8,1400.5 L1136.8,1400.5 L1140.8,1400.5 L1144.8,1400.6 L1148.8,1400.7 L1152.8,1400.8 L1156.8,1401.0 L1160.8,1401.2 L1164.8,1401.5 L1168.7,1401.8 L1172.7,1402.2 L1176.7,1402.6 L1180.7,1403.1 L1184.6,1403.7 L1188.6,1404.3 L1192.5,1405.0 L1196.5,1405.7 L1200.4,1406.4 L1204.4,1407.1 L1208.3,1407.8 L1212.3,1408.4 L1216.2,1409.0 L1220.2,1409.5 L1224.2,1409.9 L1228.1,1410.4 L1232.1,1410.8 L1236.1,1411.2 L1240.1,1411.5 L1244.1,1411.8 L1248.1,1412.0 L1252.1,1412.2 L1256.1,1412.4 L1260.1,1412.5 L1264.1,1412.6 L1268.1,1412.7 L1272.1,1412.7 L1276.1,1412.8 L1280.1,1412.8 L1284.1,1412.9 L1288.1,1412.9 L1292.1,1412.9 L1296.1,1412.9 L1300.1,1412.9 L1304.1,1412.9 L1308.1,1412.9 L1312.1,1412.9 L1316.1,1412.9 L1320.1,1412.8 L1324.1,1412.8 L1328.1,1412.8 L1332.1,1412.8 L1336.1,1412.7 L1340.1,1412.7 L1344.1,1412.7 L1348.1,1412.6 L1352.1,1412.6 L1356.1,1412.6 L1360.1,1412.6 L1364.1,1412.5 L1368.1,1412.5 L1372.2,1412.5 L1376.2,1412.4 L1380.2,1412.4 L1384.2,1412.4 L1388.2,1412.3 L1392.2,1412.3 L1396.2,1412.3 L1400.2,1412.2 L1404.2,1412.2 L1408.2,1412.1 L1412.2,1412.1 L1416.2,1412.0 L1420.2,1411.9 L1424.2,1411.8 L1428.2,1411.7 L1432.2,1411.6 L1436.2,1411.5 L1440.2,1411.3 L1444.2,1411.1 L1448.2,1410.9 L1452.2,1410.7 L1456.2,1410.5 L1460.2,1410.2 L1464.2,1409.9 L1468.1,1409.6 L1472.1,1409.3 L1476.1,1408.9 L1480.1,1408.6 L1484.1,1408.2 L1488.1,1407.8 L1492.1,1407.4 L1496.0,1407.0 L1500.0,1406.6 L1504.0,1406.3 L1508.0,1405.9 L1508.0,1405.9" stroke="#6a0c16"/>
<path d="M309.4,1652.0 L311.8,1648.8 L314.3,1645.7 L316.8,1642.5 L319.4,1639.5 L322.1,1636.6 L324.9,1633.8 L328.0,1631.3 L331.3,1629.0 L334.7,1626.9 L338.2,1625.0 L341.7,1623.2 L345.4,1621.4 L349.0,1619.8 L352.7,1618.2 L356.4,1616.7 L360.1,1615.3 L363.9,1614.0 L367.7,1612.7 L371.5,1611.6 L375.4,1610.5 L379.3,1609.5 L383.1,1608.5 L387.0,1607.5 L390.9,1606.6 L394.8,1605.7 L398.7,1604.9 L402.6,1604.1 L406.6,1603.4 L410.5,1602.7 L414.5,1602.0 L418.4,1601.4 L422.4,1600.8 L426.3,1600.2 L430.3,1599.6 L434.2,1599.0 L438.2,1598.5 L442.2,1598.0 L446.1,1597.5 L450.1,1597.0 L454.1,1596.5 L458.1,1596.1 L462.0,1595.6 L466.0,1595.2 L470.0,1594.8 L474.0,1594.4 L478.0,1594.1 L482.0,1593.7 L485.9,1593.3 L489.9,1593.0 L493.9,1592.7 L497.9,1592.3 L501.9,1592.0 L505.9,1591.7 L509.9,1591.4 L513.9,1591.1 L517.9,1590.9 L521.8,1590.6 L525.8,1590.3 L529.8,1590.1 L533.8,1589.8 L537.8,1589.6 L541.8,1589.4 L545.8,1589.1 L549.8,1588.9 L553.8,1588.7 L557.8,1588.6 L561.8,1588.4 L565.8,1588.2 L569.8,1588.1 L573.8,1587.9 L577.8,1587.8 L581.8,1587.6 L585.8,1587.5 L589.8,1587.4 L593.8,1587.3 L597.8,1587.2 L601.8,1587.1 L605.8,1587.0 L609.8,1586.9 L613.8,1586.8 L617.8,1586.7 L621.8,1586.6 L625.8,1586.5 L629.8,1586.5 L633.8,1586.4 L637.8,1586.3 L641.8,1586.3 L645.8,1586.2 L649.8,1586.2 L653.8,1586.1 L657.8,1586.1 L661.8,1586.0 L665.8,1586.0 L669.8,1586.0 L673.8,1585.9 L677.8,1585.9 L681.8,1585.8 L685.8,1585.8 L689.8,1585.7 L693.8,1585.7 L697.8,1585.6 L701.8,1585.6 L705.8,1585.5 L709.8,1585.5 L713.8,1585.4 L717.8,1585.3 L721.8,1585.3 L725.8,1585.2 L729.8,1585.1 L733.8,1585.1 L737.8,1585.0 L741.8,1585.0 L745.8,1584.9 L749.8,1584.8 L753.8,1584.8 L757.8,1584.7 L761.8,1584.6 L765.8,1584.6 L769.8,1584.5 L773.8,1584.4 L777.8,1584.4 L781.8,1584.3 L785.8,1584.2 L789.8,1584.2 L793.8,1584.1 L797.8,1584.0 L801.8,1584.0 L805.8,1583.9 L809.8,1583.8 L813.8,1583.8 L817.8,1583.7 L821.8,1583.6 L825.8,1583.5 L829.8,1583.4 L833.8,1583.4 L837.8,1583.3 L841.8,1583.2 L845.8,1583.1 L849.8,1583.0 L853.8,1583.0 L857.8,1582.9 L861.8,1582.8 L865.8,1582.7 L869.8,1582.7 L873.8,1582.6 L877.8,1582.5 L881.8,1582.5 L885.8,1582.4 L889.8,1582.4 L893.8,1582.3 L897.8,1582.2 L901.8,1582.2 L905.8,1582.1 L909.8,1582.1 L913.8,1582.0 L917.8,1582.0 L921.8,1581.9 L925.8,1581.9 L929.8,1581.8 L933.8,1581.8 L937.8,1581.7 L941.8,1581.6 L945.8,1581.6 L949.8,1581.5 L953.8,1581.5 L957.8,1581.4 L961.8,1581.4 L965.8,1581.3 L969.8,1581.2 L973.8,1581.2 L977.9,1581.1 L981.9,1581.1 L985.9,1581.0 L989.9,1581.0 L993.9,1580.9 L997.9,1580.9 L1001.9,1580.8 L1005.9,1580.8 L1009.9,1580.7 L1013.9,1580.7 L1017.9,1580.6 L1021.9,1580.6 L1025.9,1580.5 L1029.9,1580.5 L1033.9,1580.4 L1037.9,1580.4 L1041.9,1580.3 L1045.9,1580.3 L1049.9,1580.2 L1053.9,1580.2 L1057.9,1580.2 L1061.9,1580.1 L1065.9,1580.1 L1069.9,1580.0 L1073.9,1580.0 L1077.9,1580.0 L1081.9,1579.9 L1085.9,1579.9 L1089.9,1579.9 L1093.9,1579.8 L1097.9,1579.8 L1101.9,1579.8 L1105.9,1579.7 L1109.9,1579.7 L1113.9,1579.7 L1117.9,1579.7 L1121.9,1579.6 L1125.9,1579.6 L1129.9,1579.6 L1133.9,1579.6 L1137.9,1579.6 L1141.9,1579.5 L1145.9,1579.5 L1149.9,1579.5 L1153.9,1579.5 L1157.9,1579.5 L1161.9,1579.5 L1165.9,1579.5 L1169.9,1579.4 L1173.9,1579.4 L1177.9,1579.4 L1181.9,1579.4 L1185.9,1579.4 L1189.9,1579.4 L1193.9,1579.4 L1197.9,1579.4 L1201.9,1579.4 L1205.9,1579.4 L1209.9,1579.4 L1213.9,1579.4 L1217.9,1579.4 L1221.9,1579.4 L1225.9,1579.4 L1229.9,1579.4 L1233.9,1579.4 L1237.9,1579.4 L1241.9,1579.4 L1245.9,1579.4 L1249.9,1579.4 L1253.9,1579.4 L1257.9,1579.4 L1261.9,1579.4 L1265.9,1579.4 L1269.9,1579.4 L1273.9,1579.4 L1277.9,1579.4 L1281.9,1579.4 L1285.9,1579.4 L1289.9,1579.4 L1293.9,1579.4 L1297.9,1579.4 L1301.9,1579.4 L1305.9,1579.4 L1309.9,1579.4 L1313.9,1579.4 L1317.9,1579.5 L1321.9,1579.5 L1325.9,1579.5 L1329.9,1579.5 L1333.9,1579.5 L1337.9,1579.5 L1342.0,1579.5 L1346.0,1579.5 L1350.0,1579.5 L1354.0,1579.5 L1358.0,1579.5 L1362.0,1579.5 L1366.0,1579.5 L1370.0,1579.5 L1374.0,1579.5 L1378.0,1579.6 L1382.0,1579.6 L1386.0,1579.6 L1390.0,1579.6 L1394.0,1579.6 L1398.0,1579.6 L1402.0,1579.6 L1406.0,1579.6 L1410.0,1579.6 L1414.0,1579.6 L1418.0,1579.6 L1422.0,1579.6 L1426.0,1579.6 L1430.0,1579.7 L1434.0,1579.7 L1438.0,1579.7 L1442.0,1579.7 L1446.0,1579.7 L1450.0,1579.7 L1454.0,1579.7 L1458.0,1579.7 L1462.0,1579.7 L1466.0,1579.7 L1470.0,1579.7 L1474.0,1579.7 L1478.0,1579.8 L1482.0,1579.8 L1486.0,1579.8 L1490.0,1579.8 L1494.0,1579.8 L1498.0,1579.8 L1502.0,1579.8 L1506.0,1579.8 L1508.0,1579.8" stroke="#e02424"/>
<path d="M310.6,1574.0 L314.0,1576.1 L317.4,1578.2 L320.8,1580.3 L324.2,1582.4 L327.6,1584.5 L331.1,1586.6 L334.5,1588.6 L337.9,1590.7 L341.4,1592.7 L344.9,1594.7 L348.4,1596.6 L351.8,1598.6 L355.3,1600.6 L358.8,1602.5 L362.3,1604.4 L365.9,1606.3 L369.4,1608.3 L372.9,1610.2 L376.4,1612.1 L379.9,1614.0 L383.5,1615.9 L387.0,1617.7 L390.6,1619.5 L394.2,1621.3 L397.8,1623.0 L401.4,1624.7 L405.1,1626.3 L408.7,1628.0 L412.4,1629.6 L416.0,1631.2 L419.7,1632.8 L423.4,1634.3 L427.1,1635.9 L430.8,1637.5 L434.5,1639.0 L438.1,1640.6 L441.8,1642.1 L445.5,1643.7 L449.2,1645.2 L452.9,1646.8 L456.6,1648.3 L460.3,1649.8 L464.0,1651.3 L467.7,1652.9 L471.4,1654.3 L475.1,1655.8 L478.9,1657.3 L482.6,1658.7 L486.3,1660.2 L490.1,1661.6 L493.8,1662.9 L497.6,1664.3 L501.4,1665.7 L505.1,1667.0 L508.9,1668.3 L512.7,1669.6 L516.5,1670.9 L520.3,1672.2 L524.1,1673.4 L527.9,1674.6 L531.7,1675.8 L535.6,1677.0 L539.4,1678.1 L543.2,1679.3 L547.1,1680.4 L550.9,1681.5 L554.8,1682.6 L558.6,1683.8 L562.4,1684.9 L566.3,1686.1 L570.1,1687.3 L573.9,1688.4 L577.7,1689.6 L581.6,1690.8 L585.4,1691.9 L589.2,1693.1 L593.1,1694.2 L596.9,1695.3 L600.8,1696.3 L604.7,1697.4 L608.5,1698.4 L612.4,1699.4 L616.3,1700.4 L620.2,1701.3 L624.1,1702.2 L628.0,1703.2 L631.9,1704.1 L635.8,1704.9 L639.7,1705.8 L643.6,1706.6 L647.5,1707.4 L651.4,1708.2 L655.4,1709.0 L659.3,1709.8 L663.2,1710.6 L667.1,1711.4 L671.1,1712.2 L675.0,1713.0 L678.9,1713.8 L682.8,1714.6 L686.7,1715.5 L690.6,1716.3 L694.5,1717.2 L698.4,1718.1 L702.3,1718.9 L706.2,1719.8 L710.2,1720.7 L714.1,1721.6 L718.0,1722.4 L721.9,1723.3 L725.8,1724.1 L729.7,1724.9 L733.6,1725.7 L737.6,1726.5 L741.5,1727.3 L745.4,1728.0 L749.3,1728.8 L753.3,1729.5 L757.2,1730.3 L761.1,1731.0 L765.1,1731.7 L769.0,1732.4 L773.0,1733.0 L776.9,1733.6 L780.9,1734.2 L784.9,1734.8 L788.8,1735.3 L792.8,1735.9 L796.8,1736.4 L800.7,1736.9 L804.7,1737.4 L808.7,1737.9 L812.6,1738.4 L816.6,1739.0 L820.6,1739.5 L824.5,1740.0 L828.5,1740.5 L832.5,1741.0 L836.5,1741.4 L840.4,1741.9 L844.4,1742.4 L848.4,1742.9 L852.4,1743.3 L856.3,1743.8 L860.3,1744.3 L864.3,1744.7 L868.3,1745.2 L872.2,1745.6 L876.2,1746.0 L880.2,1746.4 L884.2,1746.9 L888.2,1747.3 L892.1,1747.7 L896.1,1748.0 L900.1,1748.4 L904.1,1748.8 L908.1,1749.2 L912.1,1749.5 L916.1,1749.9 L920.0,1750.2 L924.0,1750.5 L928.0,1750.9 L932.0,1751.2 L936.0,1751.5 L940.0,1751.8 L944.0,1752.1 L948.0,1752.4 L952.0,1752.7 L956.0,1753.0 L959.9,1753.3 L963.9,1753.6 L967.9,1753.9 L971.9,1754.2 L975.9,1754.5 L979.9,1754.8 L983.9,1755.0 L987.9,1755.3 L991.9,1755.6 L995.9,1755.8 L999.9,1756.1 L1003.9,1756.3 L1007.9,1756.6 L1011.9,1756.8 L1015.8,1757.1 L1019.8,1757.3 L1023.8,1757.5 L1027.8,1757.8 L1031.8,1758.0 L1035.8,1758.2 L1039.8,1758.4 L1043.8,1758.6 L1047.8,1758.8 L1051.8,1759.0 L1055.8,1759.2 L1059.8,1759.4 L1063.8,1759.6 L1067.8,1759.8 L1071.8,1760.0 L1075.8,1760.2 L1079.8,1760.3 L1083.8,1760.5 L1087.8,1760.7 L1091.8,1760.8 L1095.8,1761.0 L1099.8,1761.1 L1103.8,1761.3 L1107.8,1761.4 L1111.8,1761.5 L1115.8,1761.7 L1119.8,1761.8 L1123.8,1761.9 L1127.8,1762.0 L1131.8,1762.1 L1135.8,1762.2 L1139.8,1762.3 L1143.8,1762.4 L1147.8,1762.5 L1151.8,1762.6 L1155.8,1762.6 L1159.8,1762.7 L1163.8,1762.8 L1167.8,1762.8 L1171.8,1762.9 L1175.8,1762.9 L1179.8,1763.0 L1183.8,1763.1 L1187.8,1763.1 L1191.8,1763.1 L1195.8,1763.2 L1199.8,1763.2 L1203.8,1763.3 L1207.8,1763.3 L1211.8,1763.3 L1215.8,1763.4 L1219.8,1763.4 L1223.8,1763.5 L1227.8,1763.5 L1231.8,1763.5 L1235.8,1763.5 L1239.8,1763.6 L1243.9,1763.6 L1247.9,1763.6 L1251.9,1763.6 L1255.9,1763.7 L1259.9,1763.7 L1263.9,1763.7 L1267.9,1763.7 L1271.9,1763.7 L1275.9,1763.7 L1279.9,1763.7 L1283.9,1763.7 L1287.9,1763.8 L1291.9,1763.8 L1295.9,1763.8 L1299.9,1763.8 L1303.9,1763.8 L1307.9,1763.8 L1311.9,1763.8 L1315.9,1763.8 L1319.9,1763.8 L1323.9,1763.8 L1327.9,1763.8 L1331.9,1763.8 L1335.9,1763.8 L1339.9,1763.8 L1343.9,1763.8 L1347.9,1763.8 L1351.9,1763.8 L1355.9,1763.8 L1359.9,1763.8 L1363.9,1763.8 L1367.9,1763.8 L1371.9,1763.8 L1375.9,1763.8 L1379.9,1763.8 L1383.9,1763.8 L1387.9,1763.8 L1391.9,1763.8 L1395.9,1763.7 L1399.9,1763.7 L1403.9,1763.7 L1407.9,1763.7 L1411.9,1763.7 L1415.9,1763.7 L1420.0,1763.7 L1424.0,1763.7 L1428.0,1763.7 L1432.0,1763.7 L1436.0,1763.7 L1440.0,1763.7 L1444.0,1763.7 L1448.0,1763.7 L1452.0,1763.7 L1456.0,1763.7 L1460.0,1763.7 L1464.0,1763.6 L1468.0,1763.6 L1472.0,1763.6 L1476.0,1763.6 L1480.0,1763.6 L1484.0,1763.6 L1488.0,1763.6 L1492.0,1763.6 L1496.0,1763.6 L1500.0,1763.6 L1504.0,1763.6 L1508.0,1763.6 L1508.0,1763.6" stroke="#15781c"/>
<path d="M311.0,2314.8 L315.0,2314.7 L319.0,2314.6 L323.0,2314.5 L327.0,2314.4 L331.0,2314.3 L335.0,2314.2 L339.0,2314.1 L343.0,2314.0 L347.0,2313.9 L351.0,2313.8 L355.1,2313.7 L359.1,2313.5 L363.1,2313.4 L367.1,2313.3 L371.1,2313.1 L375.1,2313.0 L379.1,2312.8 L383.1,2312.6 L387.1,2312.4 L391.1,2312.3 L395.1,2312.1 L399.1,2311.9 L403.1,2311.7 L407.1,2311.4 L411.1,2311.2 L415.1,2311.0 L419.1,2310.8 L423.1,2310.6 L427.1,2310.4 L431.1,2310.2 L435.1,2309.9 L439.1,2309.7 L443.1,2309.5 L447.1,2309.3 L451.1,2309.1 L455.1,2308.9 L459.1,2308.7 L463.1,2308.5 L467.1,2308.3 L471.1,2308.1 L475.1,2307.9 L479.1,2307.7 L483.1,2307.5 L487.1,2307.3 L491.1,2307.1 L495.1,2306.9 L499.1,2306.7 L503.1,2306.5 L507.1,2306.3 L511.1,2306.1 L515.1,2305.9 L519.1,2305.7 L523.1,2305.5 L527.1,2305.3 L531.1,2305.1 L535.1,2304.9 L539.1,2304.7 L543.1,2304.5 L547.1,2304.3 L551.1,2304.1 L555.1,2303.9 L559.1,2303.7 L563.1,2303.5 L567.1,2303.3 L571.1,2303.1 L575.1,2302.9 L579.1,2302.7 L583.1,2302.5 L587.1,2302.3 L591.1,2302.1 L595.1,2301.9 L599.1,2301.7 L603.1,2301.5 L607.1,2301.3 L611.1,2301.0 L615.1,2300.8 L619.1,2300.6 L623.1,2300.4 L627.1,2300.2 L631.1,2299.9 L635.1,2299.7 L639.1,2299.5 L643.1,2299.3 L647.1,2299.1 L651.1,2298.9 L655.1,2298.7 L659.1,2298.4 L663.1,2298.2 L667.1,2298.0 L671.1,2297.9 L675.1,2297.7 L679.1,2297.5 L683.1,2297.3 L687.1,2297.1 L691.1,2296.9 L695.1,2296.7 L699.1,2296.5 L703.1,2296.4 L707.1,2296.2 L711.1,2296.0 L715.1,2295.8 L719.1,2295.6 L723.1,2295.5 L727.1,2295.3 L731.1,2295.1 L735.2,2294.9 L739.2,2294.7 L743.2,2294.6 L747.2,2294.4 L751.2,2294.2 L755.2,2294.0 L759.2,2293.8 L763.2,2293.7 L767.2,2293.5 L771.2,2293.3 L775.2,2293.1 L779.2,2293.0 L783.2,2292.8 L787.2,2292.6 L791.2,2292.4 L795.2,2292.3 L799.2,2292.1 L803.2,2291.9 L807.2,2291.7 L811.2,2291.6 L815.2,2291.4 L819.2,2291.2 L823.2,2291.0 L827.2,2290.9 L831.2,2290.7 L835.2,2290.5 L839.2,2290.4 L843.2,2290.2 L847.2,2290.0 L851.2,2289.9 L855.2,2289.7 L859.2,2289.5 L863.2,2289.4 L867.2,2289.2 L871.2,2289.0 L875.2,2288.9 L879.2,2288.7 L883.2,2288.6 L887.2,2288.4 L891.2,2288.3 L895.2,2288.1 L899.2,2287.9 L903.2,2287.8 L907.3,2287.6 L911.3,2287.5 L915.3,2287.3 L919.3,2287.2 L923.3,2287.0 L927.3,2286.9 L931.3,2286.7 L935.3,2286.6 L939.3,2286.5 L943.3,2286.3 L947.3,2286.2 L951.3,2286.0 L955.3,2285.9 L959.3,2285.8 L963.3,2285.6 L967.3,2285.5 L971.3,2285.3 L975.3,2285.2 L979.3,2285.1 L983.3,2284.9 L987.3,2284.8 L991.3,2284.7 L995.3,2284.6 L999.3,2284.4 L1003.3,2284.3 L1007.3,2284.2 L1011.3,2284.0 L1015.3,2283.9 L1019.4,2283.8 L1023.4,2283.7 L1027.4,2283.5 L1031.4,2283.4 L1035.4,2283.3 L1039.4,2283.2 L1043.4,2283.0 L1047.4,2282.9 L1051.4,2282.8 L1055.4,2282.7 L1059.4,2282.6 L1063.4,2282.5 L1067.4,2282.3 L1071.4,2282.2 L1075.4,2282.1 L1079.4,2282.0 L1083.4,2281.9 L1087.4,2281.8 L1091.4,2281.7 L1095.4,2281.6 L1099.4,2281.5 L1103.4,2281.4 L1107.4,2281.3 L1111.5,2281.2 L1115.5,2281.1 L1119.5,2281.0 L1123.5,2280.9 L1127.5,2280.8 L1131.5,2280.7 L1135.5,2280.6 L1139.5,2280.5 L1143.5,2280.4 L1147.5,2280.3 L1151.5,2280.2 L1155.5,2280.1 L1159.5,2280.0 L1163.5,2279.9 L1167.5,2279.8 L1171.5,2279.7 L1175.5,2279.7 L1179.5,2279.6 L1183.5,2279.5 L1187.5,2279.4 L1191.6,2279.3 L1195.6,2279.3 L1199.6,2279.2 L1203.6,2279.1 L1207.6,2279.0 L1211.6,2279.0 L1215.6,2278.9 L1219.6,2278.8 L1223.6,2278.8 L1227.6,2278.7 L1231.6,2278.6 L1235.6,2278.6 L1239.6,2278.5 L1243.6,2278.4 L1247.6,2278.4 L1251.6,2278.3 L1255.6,2278.2 L1259.6,2278.2 L1263.6,2278.1 L1267.7,2278.1 L1271.7,2278.0 L1275.7,2277.9 L1279.7,2277.9 L1283.7,2277.8 L1287.7,2277.8 L1291.7,2277.7 L1295.7,2277.7 L1299.7,2277.6 L1303.7,2277.5 L1307.7,2277.5 L1311.7,2277.4 L1315.7,2277.4 L1319.7,2277.3 L1323.7,2277.3 L1327.7,2277.2 L1331.7,2277.2 L1335.7,2277.1 L1339.8,2277.1 L1343.8,2277.0 L1347.8,2277.0 L1351.8,2276.9 L1355.8,2276.9 L1359.8,2276.8 L1363.8,2276.8 L1367.8,2276.7 L1371.8,2276.7 L1375.8,2276.7 L1379.8,2276.6 L1383.8,2276.6 L1387.8,2276.5 L1391.8,2276.5 L1395.8,2276.4 L1399.8,2276.4 L1403.8,2276.3 L1407.9,2276.3 L1411.9,2276.3 L1415.9,2276.2 L1419.9,2276.2 L1423.9,2276.2 L1427.9,2276.2 L1431.9,2276.1 L1435.9,2276.1 L1439.9,2276.1 L1443.9,2276.1 L1447.9,2276.1 L1451.9,2276.1 L1455.9,2276.0 L1459.9,2276.0 L1463.9,2276.0 L1467.9,2276.0 L1471.9,2276.0 L1476.0,2276.0 L1480.0,2276.0 L1484.0,2276.0 L1488.0,2276.0 L1492.0,2276.0 L1496.0,2276.0 L1500.0,2276.0 L1504.0,2276.0 L1508.0,2276.0 L1508.0,2276.0" stroke="#1212c8"/>
<path d="M377,1392V1415 M725.7,1391V1419" stroke="#6a0c16" stroke-width="10"/>
<path d="M460,1875H578" stroke="#6a0c16" stroke-width="9.5"/>
<path d="M460,1971H578" stroke="#e02424" stroke-width="9.5"/>
<path d="M460,2069H578" stroke="#15781c" stroke-width="9.5"/>
<path d="M460,2167H578" stroke="#1212c8" stroke-width="9.5"/>
</g>
<rect x="307.5" y="1366.5" width="1204.0" height="986.0" fill="none" stroke="#141414" stroke-width="9" stroke-linejoin="round"/>
<path d="M310.0,2352.5V2377.5 M610.0,2352.5V2377.5 M910.0,2352.5V2377.5 M1210.0,2352.5V2377.5 M1510.0,2352.5V2377.5 M307.5,1366.5H283.5 M307.5,1648.2H283.5 M307.5,1929.9H283.5 M307.5,2211.6H283.5 M1511.5,1465H1496.5 M1511.5,1662H1496.5 M1511.5,1861H1496.5 M1511.5,2057H1496.5 M1511.5,2253H1496.5" stroke="#141414" stroke-width="8" fill="none"/>
<clipPath id="cc"><rect x="328.5" y="2642.5" width="1198.5" height="981.0"/></clipPath><g clip-path="url(#cc)">
<path d="M330.0,3360.5 L334.0,3360.5 L338.0,3360.5 L342.0,3360.5 L346.0,3360.5 L350.0,3360.5 L354.0,3360.5 L358.0,3360.5 L362.0,3360.5 L366.0,3360.5 L370.0,3360.5 L374.0,3360.4 L378.0,3360.4 L382.0,3360.4 L386.0,3360.4 L390.0,3360.4 L394.0,3360.4 L398.0,3360.4 L402.0,3360.4 L406.0,3360.4 L410.0,3360.4 L414.0,3360.4 L418.0,3360.4 L422.0,3360.4 L426.0,3360.4 L430.0,3360.4 L434.0,3360.4 L438.0,3360.4 L442.0,3360.4 L446.0,3360.4 L450.0,3360.4 L454.0,3360.4 L458.0,3360.4 L462.0,3360.4 L466.0,3360.4 L470.0,3360.4 L474.0,3360.4 L478.1,3360.4 L482.1,3360.4 L486.1,3360.4 L490.1,3360.4 L494.1,3360.4 L498.1,3360.5 L502.1,3360.5 L506.1,3360.5 L510.1,3360.5 L514.1,3360.5 L518.1,3360.5 L522.1,3360.5 L526.1,3360.6 L530.1,3360.6 L534.1,3360.6 L538.1,3360.6 L542.1,3360.6 L546.1,3360.6 L550.1,3360.6 L554.1,3360.7 L558.1,3360.7 L562.1,3360.7 L566.1,3360.7 L570.1,3360.7 L574.1,3360.7 L578.1,3360.8 L582.1,3360.8 L586.1,3360.8 L590.1,3360.8 L594.1,3360.8 L598.1,3360.9 L602.1,3360.9 L606.1,3360.9 L610.1,3360.9 L614.1,3361.0 L618.1,3361.0 L622.1,3361.0 L626.1,3361.1 L630.1,3361.1 L634.1,3361.1 L638.1,3361.2 L642.1,3361.2 L646.1,3361.2 L650.1,3361.3 L654.1,3361.3 L658.1,3361.4 L662.1,3361.4 L666.1,3361.5 L670.1,3361.5 L674.1,3361.6 L678.1,3361.6 L682.1,3361.7 L686.1,3361.7 L690.1,3361.8 L694.1,3361.9 L698.1,3361.9 L702.1,3362.0 L706.1,3362.1 L710.1,3362.2 L714.1,3362.3 L718.1,3362.3 L722.1,3362.4 L726.1,3362.5 L730.1,3362.6 L734.1,3362.7 L738.1,3362.8 L742.1,3362.9 L746.1,3363.0 L750.1,3363.1 L754.1,3363.2 L758.1,3363.3 L762.1,3363.4 L766.1,3363.5 L770.1,3363.6 L774.1,3363.8 L778.1,3363.9 L782.1,3364.0 L786.1,3364.1 L790.1,3364.2 L794.1,3364.3 L798.1,3364.5 L802.1,3364.6 L806.1,3364.7 L810.1,3364.8 L814.1,3365.0 L818.1,3365.1 L822.1,3365.2 L826.1,3365.3 L830.1,3365.5 L834.1,3365.6 L838.1,3365.7 L842.1,3365.8 L846.1,3366.0 L850.1,3366.1 L854.1,3366.2 L858.1,3366.4 L862.1,3366.5 L866.1,3366.6 L870.1,3366.8 L874.1,3366.9 L878.1,3367.0 L882.1,3367.2 L886.1,3367.3 L890.1,3367.5 L894.1,3367.6 L898.1,3367.7 L902.1,3367.9 L906.1,3368.0 L910.1,3368.2 L914.1,3368.4 L918.1,3368.6 L922.1,3368.7 L926.1,3368.9 L930.1,3369.2 L934.1,3369.4 L938.1,3369.6 L942.1,3369.8 L946.1,3370.0 L950.1,3370.2 L954.1,3370.4 L958.0,3370.6 L962.0,3370.8 L966.0,3371.0 L970.0,3371.2 L974.0,3371.3 L978.0,3371.4 L982.0,3371.5 L986.0,3371.6 L990.0,3371.7 L994.0,3371.8 L998.0,3371.9 L1002.0,3371.9 L1006.0,3372.0 L1010.0,3372.0 L1014.0,3372.1 L1018.0,3372.1 L1022.0,3372.1 L1026.0,3372.2 L1030.0,3372.2 L1034.1,3372.2 L1038.1,3372.2 L1042.1,3372.3 L1046.1,3372.3 L1050.1,3372.4 L1054.1,3372.4 L1058.1,3372.5 L1062.1,3372.5 L1066.1,3372.6 L1070.1,3372.7 L1074.1,3372.8 L1078.1,3372.9 L1082.1,3373.0 L1086.1,3373.1 L1090.1,3373.3 L1094.1,3373.4 L1098.1,3373.6 L1102.1,3373.7 L1106.1,3373.9 L1110.0,3374.1 L1114.0,3374.2 L1118.0,3374.4 L1122.0,3374.6 L1126.0,3374.8 L1130.0,3375.0 L1134.0,3375.2 L1138.0,3375.4 L1142.0,3375.6 L1146.0,3375.8 L1150.0,3376.0 L1154.0,3376.2 L1158.0,3376.4 L1162.0,3376.7 L1166.0,3376.9 L1170.0,3377.1 L1174.0,3377.3 L1178.0,3377.6 L1182.0,3377.8 L1186.0,3378.0 L1190.0,3378.3 L1194.0,3378.6 L1197.9,3378.9 L1201.9,3379.3 L1205.9,3379.6 L1209.9,3380.1 L1213.9,3380.5 L1217.9,3380.9 L1221.8,3381.2 L1225.8,3381.4 L1229.8,3381.6 L1233.8,3381.7 L1237.8,3381.7 L1241.8,3381.7 L1245.8,3381.7 L1249.8,3381.6 L1253.8,3381.5 L1257.8,3381.4 L1261.8,3381.3 L1265.8,3381.2 L1269.8,3381.1 L1273.8,3381.0 L1277.8,3381.0 L1281.7,3381.2 L1285.5,3381.8 L1289.3,3382.8 L1293.2,3383.8 L1297.0,3384.8 L1300.9,3385.8 L1304.8,3386.8 L1308.7,3387.9 L1312.5,3388.9 L1316.4,3389.9 L1320.3,3390.9 L1324.1,3391.9 L1328.0,3392.9 L1331.9,3393.9 L1335.7,3395.0 L1339.4,3396.1 L1343.2,3397.3 L1346.9,3398.7 L1350.6,3400.1 L1354.4,3401.5 L1358.1,3403.0 L1361.9,3404.4 L1365.6,3405.8 L1369.3,3407.2 L1373.1,3408.6 L1376.8,3410.0 L1380.6,3411.4 L1384.3,3412.9 L1388.0,3414.2 L1391.4,3415.5 L1394.2,3416.5 L1397.0,3417.7 L1400.3,3419.3 L1403.8,3421.0 L1407.4,3422.7 L1411.0,3424.5 L1414.6,3426.2 L1418.2,3428.0 L1421.8,3429.7 L1425.4,3431.5 L1429.0,3433.2 L1432.6,3435.0 L1436.2,3436.7 L1439.8,3438.4 L1443.5,3440.1 L1447.1,3441.7 L1450.8,3443.3 L1454.5,3444.7 L1458.3,3446.2 L1462.0,3447.6 L1465.7,3449.1 L1469.4,3450.6 L1473.2,3452.0 L1476.9,3453.5 L1480.6,3454.9 L1484.3,3456.4 L1488.1,3457.8 L1491.8,3459.3 L1495.5,3460.7 L1499.3,3462.1 L1503.0,3463.5 L1506.8,3464.9 L1510.6,3466.2 L1514.4,3467.4 L1518.1,3468.5 L1520.0,3469.0" fill="none" stroke="#0808d0" stroke-width="12"/>
<path d="M314.0,3368.9h29.0l-14.5,-25.1zM330.7,3368.9h29.0l-14.5,-25.1zM347.3,3368.9h29.0l-14.5,-25.1zM364.0,3368.8h29.0l-14.5,-25.1zM380.7,3368.8h29.0l-14.5,-25.1zM397.3,3368.8h29.0l-14.5,-25.1zM414.0,3368.8h29.0l-14.5,-25.1zM430.7,3368.8h29.0l-14.5,-25.1zM447.3,3368.8h29.0l-14.5,-25.1zM464.0,3368.8h29.0l-14.5,-25.1zM480.7,3368.8h29.0l-14.5,-25.1zM497.3,3368.9h29.0l-14.5,-25.1zM514.0,3368.9h29.0l-14.5,-25.1zM530.7,3369.0h29.0l-14.5,-25.1zM547.3,3369.1h29.0l-14.5,-25.1zM564.0,3369.1h29.0l-14.5,-25.1zM580.7,3369.2h29.0l-14.5,-25.1zM597.3,3369.3h29.0l-14.5,-25.1zM614.0,3369.4h29.0l-14.5,-25.1zM630.7,3369.6h29.0l-14.5,-25.1zM647.3,3369.8h29.0l-14.5,-25.1zM664.0,3370.0h29.0l-14.5,-25.1zM680.7,3370.3h29.0l-14.5,-25.1zM697.3,3370.6h29.0l-14.5,-25.1zM714.0,3370.9h29.0l-14.5,-25.1zM730.7,3371.3h29.0l-14.5,-25.1zM747.3,3371.8h29.0l-14.5,-25.1zM764.0,3372.2h29.0l-14.5,-25.1zM780.7,3372.7h29.0l-14.5,-25.1zM797.3,3373.2h29.0l-14.5,-25.1zM814.0,3373.8h29.0l-14.5,-25.1zM830.7,3374.3h29.0l-14.5,-25.1zM847.3,3374.9h29.0l-14.5,-25.1zM864.0,3375.4h29.0l-14.5,-25.1zM880.7,3376.0h29.0l-14.5,-25.1zM897.3,3376.7h29.0l-14.5,-25.1zM914.0,3377.6h29.0l-14.5,-25.1zM930.7,3378.4h29.0l-14.5,-25.1zM947.3,3379.2h29.0l-14.5,-25.1zM964.0,3379.8h29.0l-14.5,-25.1zM980.7,3380.2h29.0l-14.5,-25.1zM997.3,3380.4h29.0l-14.5,-25.1zM1014.0,3380.6h29.0l-14.5,-25.1zM1030.7,3380.7h29.0l-14.5,-25.1zM1047.3,3380.9h29.0l-14.5,-25.1zM1064.0,3381.2h29.0l-14.5,-25.1zM1080.7,3381.8h29.0l-14.5,-25.1zM1097.3,3382.5h29.0l-14.5,-25.1zM1114.0,3383.2h29.0l-14.5,-25.1zM1130.7,3384.1h29.0l-14.5,-25.1zM1147.3,3385.0h29.0l-14.5,-25.1zM1164.0,3386.0h29.0l-14.5,-25.1zM1180.7,3387.1h29.0l-14.5,-25.1zM1197.3,3388.7h29.0l-14.5,-25.1zM1214.0,3390.0h29.0l-14.5,-25.1zM1230.7,3390.0h29.0l-14.5,-25.1zM1247.3,3389.5h29.0l-14.5,-25.1zM1264.0,3389.3h29.0l-14.5,-25.1zM1280.7,3392.7h29.0l-14.5,-25.1zM1297.3,3397.0h29.0l-14.5,-25.1zM1314.0,3401.4h29.0l-14.5,-25.1zM1330.7,3406.4h29.0l-14.5,-25.1zM1347.3,3412.7h29.0l-14.5,-25.1zM1364.0,3419.0h29.0l-14.5,-25.1zM1380.7,3425.3h29.0l-14.5,-25.1zM1397.3,3433.2h29.0l-14.5,-25.1zM1414.0,3441.4h29.0l-14.5,-25.1zM1430.7,3449.3h29.0l-14.5,-25.1zM1447.3,3456.0h29.0l-14.5,-25.1zM1464.0,3462.5h29.0l-14.5,-25.1zM1480.7,3469.0h29.0l-14.5,-25.1zM1497.3,3475.0h29.0l-14.5,-25.1z" fill="#0808d0"/>
<path d="M330.0,3084.0 L333.6,3085.7 L337.2,3087.4 L340.9,3089.1 L344.5,3090.8 L348.1,3092.5 L351.7,3094.2 L355.4,3095.9 L359.0,3097.5 L362.6,3099.2 L366.3,3100.9 L369.9,3102.6 L373.6,3104.2 L377.2,3105.8 L380.9,3107.5 L384.5,3109.1 L388.2,3110.7 L391.8,3112.4 L395.5,3114.0 L399.1,3115.6 L402.8,3117.2 L406.5,3118.9 L410.1,3120.4 L413.8,3122.0 L417.5,3123.6 L421.2,3125.2 L424.9,3126.7 L428.6,3128.2 L432.3,3129.7 L436.0,3131.2 L439.7,3132.6 L443.5,3134.1 L447.2,3135.5 L451.0,3136.9 L454.7,3138.2 L458.5,3139.6 L462.3,3140.9 L466.0,3142.3 L469.8,3143.6 L473.6,3145.0 L477.4,3146.3 L481.1,3147.6 L484.9,3148.9 L488.7,3150.2 L492.5,3151.6 L496.2,3152.9 L500.0,3154.2 L503.8,3155.6 L507.6,3156.9 L511.3,3158.2 L515.1,3159.5 L518.9,3160.8 L522.7,3162.1 L526.5,3163.4 L530.3,3164.6 L534.1,3165.8 L537.9,3167.0 L541.8,3168.1 L545.6,3169.2 L549.5,3170.3 L553.3,3171.3 L557.2,3172.4 L561.1,3173.3 L565.0,3174.3 L568.9,3175.2 L572.8,3176.1 L576.7,3177.0 L580.6,3177.9 L584.5,3178.7 L588.4,3179.6 L592.3,3180.4 L596.2,3181.2 L600.1,3182.0 L604.1,3182.8 L608.0,3183.6 L611.9,3184.3 L615.9,3185.0 L619.8,3185.7 L623.8,3186.4 L627.7,3187.0 L631.6,3187.7 L635.6,3188.4 L639.5,3189.0 L643.5,3189.7 L647.4,3190.4 L651.4,3191.2 L655.3,3191.9 L659.2,3192.6 L663.2,3193.4 L667.1,3194.2 L671.0,3195.0 L674.9,3195.8 L678.8,3196.7 L682.7,3197.5 L686.6,3198.3 L690.6,3199.2 L694.5,3200.0 L698.4,3200.8 L702.3,3201.6 L706.2,3202.5 L710.2,3203.2 L714.1,3204.0 L718.0,3204.8 L721.9,3205.5 L725.9,3206.3 L729.8,3207.0 L733.7,3207.7 L737.7,3208.3 L741.6,3209.0 L745.6,3209.6 L749.6,3210.2 L753.5,3210.8 L757.5,3211.4 L761.4,3211.9 L765.4,3212.4 L769.4,3212.9 L773.4,3213.4 L777.3,3213.9 L781.3,3214.3 L785.3,3214.8 L789.3,3215.2 L793.2,3215.6 L797.2,3216.1 L801.2,3216.5 L805.2,3216.9 L809.2,3217.3 L813.1,3217.7 L817.1,3218.1 L821.1,3218.5 L825.1,3218.9 L829.1,3219.3 L833.0,3219.6 L837.0,3220.0 L841.0,3220.4 L845.0,3220.8 L849.0,3221.1 L853.0,3221.5 L857.0,3221.8 L860.9,3222.2 L864.9,3222.6 L868.9,3222.9 L872.9,3223.3 L876.9,3223.6 L880.9,3224.0 L884.9,3224.4 L888.8,3224.7 L892.8,3225.1 L896.8,3225.5 L900.8,3225.8 L904.8,3226.2 L908.8,3226.6 L912.8,3226.9 L916.7,3227.3 L920.7,3227.6 L924.7,3228.0 L928.7,3228.4 L932.7,3228.7 L936.7,3229.0 L940.7,3229.4 L944.6,3229.7 L948.6,3230.0 L952.6,3230.4 L956.6,3230.7 L960.6,3231.0 L964.6,3231.3 L968.6,3231.6 L972.6,3232.0 L976.6,3232.3 L980.5,3232.6 L984.5,3232.9 L988.5,3233.2 L992.5,3233.4 L996.5,3233.7 L1000.5,3234.0 L1004.5,3234.3 L1008.5,3234.6 L1012.5,3234.9 L1016.5,3235.2 L1020.5,3235.5 L1024.4,3235.8 L1028.4,3236.0 L1032.4,3236.3 L1036.4,3236.6 L1040.4,3236.9 L1044.4,3237.1 L1048.4,3237.4 L1052.4,3237.6 L1056.4,3237.8 L1060.4,3238.1 L1064.4,3238.3 L1068.4,3238.5 L1072.4,3238.7 L1076.4,3238.8 L1080.4,3239.0 L1084.4,3239.2 L1088.4,3239.3 L1092.4,3239.4 L1096.4,3239.5 L1100.4,3239.6 L1104.4,3239.7 L1108.4,3239.8 L1112.4,3239.9 L1116.4,3240.0 L1120.4,3240.0 L1124.4,3240.1 L1128.4,3240.2 L1132.4,3240.2 L1136.4,3240.3 L1140.4,3240.3 L1144.4,3240.4 L1148.4,3240.5 L1152.4,3240.5 L1156.4,3240.6 L1160.4,3240.7 L1164.4,3240.8 L1168.4,3240.9 L1172.4,3241.0 L1176.4,3241.1 L1180.4,3241.3 L1184.4,3241.4 L1188.4,3241.6 L1192.4,3241.9 L1196.4,3242.3 L1200.3,3242.7 L1204.3,3243.2 L1208.3,3243.7 L1212.2,3244.2 L1216.2,3244.8 L1220.2,3245.4 L1224.1,3246.0 L1228.1,3246.6 L1232.0,3247.3 L1236.0,3247.9 L1239.9,3248.6 L1243.9,3249.3 L1247.8,3250.0 L1251.7,3250.7 L1255.7,3251.5 L1259.6,3252.3 L1263.5,3253.2 L1267.4,3254.1 L1271.3,3255.0 L1275.1,3256.0 L1279.0,3257.0 L1282.9,3258.0 L1286.8,3259.0 L1290.7,3260.0 L1294.5,3261.0 L1298.4,3262.0 L1302.2,3263.1 L1306.1,3264.3 L1309.9,3265.5 L1313.7,3266.7 L1317.5,3268.0 L1321.2,3269.4 L1325.0,3270.9 L1328.7,3272.3 L1332.4,3273.7 L1336.2,3275.1 L1340.0,3276.4 L1343.8,3277.7 L1347.5,3279.0 L1351.3,3280.2 L1355.2,3281.5 L1359.0,3282.7 L1362.8,3284.0 L1366.6,3285.2 L1370.4,3286.5 L1374.2,3287.7 L1378.0,3289.0 L1381.7,3290.3 L1385.5,3291.6 L1389.3,3292.9 L1393.1,3294.2 L1396.9,3295.5 L1400.6,3296.9 L1404.4,3298.2 L1408.2,3299.6 L1411.9,3300.9 L1415.7,3302.3 L1419.5,3303.6 L1423.2,3305.0 L1427.0,3306.3 L1430.8,3307.6 L1434.6,3308.9 L1438.4,3310.2 L1442.2,3311.4 L1446.0,3312.5 L1449.9,3313.6 L1453.7,3314.7 L1457.6,3315.8 L1461.4,3316.9 L1465.2,3318.1 L1469.1,3319.2 L1472.9,3320.4 L1476.8,3321.5 L1480.6,3322.6 L1484.4,3323.8 L1488.3,3324.9 L1492.1,3326.0 L1495.9,3327.2 L1499.8,3328.3 L1503.6,3329.5 L1507.4,3330.6 L1511.2,3331.7 L1514.7,3332.7 L1517.5,3333.3 L1520.0,3333.5 L1520.0,3333.5" fill="none" stroke="#0c760e" stroke-width="12"/>
<path d="M314.0,3075.6h29.0l-14.5,25.1zM330.7,3082.7h29.0l-14.5,25.1zM347.3,3090.5h29.0l-14.5,25.1zM364.0,3098.0h29.0l-14.5,25.1zM380.7,3105.5h29.0l-14.5,25.1zM397.3,3112.8h29.0l-14.5,25.1zM414.0,3119.8h29.0l-14.5,25.1zM430.7,3126.3h29.0l-14.5,25.1zM447.3,3132.4h29.0l-14.5,25.1zM464.0,3138.3h29.0l-14.5,25.1zM480.7,3144.2h29.0l-14.5,25.1zM497.3,3150.0h29.0l-14.5,25.1zM514.0,3155.7h29.0l-14.5,25.1zM530.7,3160.8h29.0l-14.5,25.1zM547.3,3165.2h29.0l-14.5,25.1zM564.0,3169.0h29.0l-14.5,25.1zM580.7,3172.6h29.0l-14.5,25.1zM597.3,3175.9h29.0l-14.5,25.1zM614.0,3178.9h29.0l-14.5,25.1zM630.7,3181.7h29.0l-14.5,25.1zM647.3,3184.7h29.0l-14.5,25.1zM664.0,3188.1h29.0l-14.5,25.1zM680.7,3191.5h29.0l-14.5,25.1zM697.3,3195.0h29.0l-14.5,25.1zM714.0,3198.2h29.0l-14.5,25.1zM730.7,3201.2h29.0l-14.5,25.1zM747.3,3203.6h29.0l-14.5,25.1zM764.0,3205.7h29.0l-14.5,25.1zM780.7,3207.6h29.0l-14.5,25.1zM797.3,3209.3h29.0l-14.5,25.1zM814.0,3211.0h29.0l-14.5,25.1zM830.7,3212.5h29.0l-14.5,25.1zM847.3,3214.0h29.0l-14.5,25.1zM864.0,3215.4h29.0l-14.5,25.1zM880.7,3216.9h29.0l-14.5,25.1zM897.3,3218.5h29.0l-14.5,25.1zM914.0,3220.0h29.0l-14.5,25.1zM930.7,3221.4h29.0l-14.5,25.1zM947.3,3222.7h29.0l-14.5,25.1zM964.0,3224.0h29.0l-14.5,25.1zM980.7,3225.3h29.0l-14.5,25.1zM997.3,3226.5h29.0l-14.5,25.1zM1014.0,3227.7h29.0l-14.5,25.1zM1030.7,3228.8h29.0l-14.5,25.1zM1047.3,3229.8h29.0l-14.5,25.1zM1064.0,3230.6h29.0l-14.5,25.1zM1080.7,3231.1h29.0l-14.5,25.1zM1097.3,3231.5h29.0l-14.5,25.1zM1114.0,3231.7h29.0l-14.5,25.1zM1130.7,3232.0h29.0l-14.5,25.1zM1147.3,3232.4h29.0l-14.5,25.1zM1164.0,3232.9h29.0l-14.5,25.1zM1180.7,3233.8h29.0l-14.5,25.1zM1197.3,3235.7h29.0l-14.5,25.1zM1214.0,3238.2h29.0l-14.5,25.1zM1230.7,3241.1h29.0l-14.5,25.1zM1247.3,3244.5h29.0l-14.5,25.1zM1264.0,3248.5h29.0l-14.5,25.1zM1280.7,3252.8h29.0l-14.5,25.1zM1297.3,3257.7h29.0l-14.5,25.1zM1314.0,3263.9h29.0l-14.5,25.1zM1330.7,3269.8h29.0l-14.5,25.1zM1347.3,3275.3h29.0l-14.5,25.1zM1364.0,3280.8h29.0l-14.5,25.1zM1380.7,3286.6h29.0l-14.5,25.1zM1397.3,3292.5h29.0l-14.5,25.1zM1414.0,3298.5h29.0l-14.5,25.1zM1430.7,3303.9h29.0l-14.5,25.1zM1447.3,3308.7h29.0l-14.5,25.1zM1464.0,3313.6h29.0l-14.5,25.1zM1480.7,3318.6h29.0l-14.5,25.1zM1497.3,3323.5h29.0l-14.5,25.1z" fill="#0c760e"/>
<path d="M330.0,2955.0 L334.0,2955.1 L338.0,2955.2 L342.0,2955.3 L346.0,2955.4 L350.0,2955.5 L354.0,2955.6 L358.0,2955.7 L362.0,2955.8 L366.0,2955.9 L370.0,2956.0 L374.0,2956.1 L378.0,2956.2 L382.0,2956.3 L386.1,2956.4 L390.1,2956.5 L394.1,2956.6 L398.1,2956.8 L402.1,2956.9 L406.1,2957.0 L410.1,2957.1 L414.1,2957.2 L418.1,2957.3 L422.1,2957.4 L426.1,2957.6 L430.1,2957.7 L434.1,2957.8 L438.1,2958.0 L442.1,2958.1 L446.1,2958.2 L450.1,2958.4 L454.1,2958.5 L458.1,2958.7 L462.1,2958.9 L466.1,2959.0 L470.1,2959.2 L474.1,2959.4 L478.1,2959.5 L482.1,2959.7 L486.1,2959.9 L490.1,2960.1 L494.1,2960.3 L498.1,2960.5 L502.1,2960.7 L506.1,2960.9 L510.1,2961.1 L514.1,2961.3 L518.1,2961.5 L522.1,2961.7 L526.1,2961.9 L530.1,2962.1 L534.1,2962.3 L538.1,2962.6 L542.1,2962.8 L546.1,2963.0 L550.1,2963.2 L554.1,2963.5 L558.1,2963.7 L562.1,2963.9 L566.1,2964.2 L570.1,2964.4 L574.1,2964.6 L578.1,2964.9 L582.1,2965.1 L586.1,2965.4 L590.1,2965.6 L594.1,2965.9 L598.1,2966.1 L602.1,2966.4 L606.1,2966.7 L610.1,2966.9 L614.1,2967.2 L618.1,2967.4 L622.1,2967.7 L626.1,2968.0 L630.1,2968.2 L634.0,2968.5 L638.0,2968.7 L642.0,2969.0 L646.0,2969.2 L650.0,2969.5 L654.0,2969.8 L658.0,2970.0 L662.0,2970.3 L666.0,2970.5 L670.0,2970.8 L674.0,2971.1 L678.0,2971.4 L682.0,2971.6 L686.0,2971.9 L690.0,2972.2 L694.0,2972.5 L698.0,2972.8 L702.0,2973.1 L706.0,2973.4 L710.0,2973.8 L714.0,2974.1 L717.9,2974.4 L721.9,2974.8 L725.9,2975.1 L729.9,2975.5 L733.9,2975.9 L737.9,2976.3 L741.9,2976.7 L745.8,2977.1 L749.8,2977.5 L753.8,2977.9 L757.8,2978.4 L761.8,2978.9 L765.8,2979.3 L769.7,2979.8 L773.7,2980.3 L777.7,2980.8 L781.7,2981.3 L785.6,2981.8 L789.6,2982.3 L793.6,2982.8 L797.5,2983.3 L801.5,2983.9 L805.5,2984.4 L809.4,2985.0 L813.4,2985.5 L817.4,2986.1 L821.3,2986.7 L825.3,2987.2 L829.3,2987.8 L833.2,2988.4 L837.2,2989.0 L841.1,2989.6 L845.1,2990.2 L849.1,2990.9 L853.0,2991.5 L857.0,2992.1 L860.9,2992.8 L864.9,2993.4 L868.8,2994.1 L872.8,2994.7 L876.7,2995.4 L880.7,2996.1 L884.6,2996.8 L888.6,2997.4 L892.5,2998.1 L896.4,2998.9 L900.4,2999.6 L904.3,3000.3 L908.3,3001.1 L912.2,3001.8 L916.1,3002.6 L920.0,3003.4 L924.0,3004.2 L927.9,3005.0 L931.8,3005.9 L935.7,3006.7 L939.6,3007.6 L943.5,3008.5 L947.4,3009.4 L951.3,3010.3 L955.2,3011.2 L959.1,3012.2 L963.0,3013.1 L966.9,3014.1 L970.8,3015.0 L974.7,3016.0 L978.6,3017.0 L982.4,3018.0 L986.3,3019.0 L990.2,3020.0 L994.1,3021.0 L997.9,3022.0 L1001.8,3023.0 L1005.7,3024.0 L1009.6,3025.0 L1013.5,3026.0 L1017.3,3027.0 L1021.2,3028.0 L1025.1,3029.0 L1028.9,3030.1 L1032.8,3031.1 L1036.7,3032.2 L1040.5,3033.3 L1044.4,3034.4 L1048.2,3035.6 L1052.0,3036.7 L1055.9,3037.9 L1059.7,3039.1 L1063.5,3040.3 L1067.3,3041.5 L1071.2,3042.7 L1075.0,3043.8 L1078.8,3045.0 L1082.6,3046.2 L1086.5,3047.4 L1090.3,3048.6 L1094.1,3049.8 L1097.9,3051.1 L1101.7,3052.3 L1105.5,3053.5 L1109.3,3054.8 L1113.1,3056.0 L1117.0,3057.2 L1120.8,3058.5 L1124.6,3059.7 L1128.4,3061.0 L1132.2,3062.2 L1136.0,3063.5 L1139.8,3064.7 L1143.6,3066.0 L1147.4,3067.2 L1151.2,3068.5 L1155.0,3069.7 L1158.8,3071.0 L1162.6,3072.2 L1166.4,3073.5 L1170.2,3074.8 L1174.0,3076.0 L1177.8,3077.3 L1181.6,3078.5 L1185.4,3079.7 L1189.3,3080.9 L1193.1,3082.1 L1196.9,3083.3 L1200.8,3084.5 L1204.6,3085.6 L1208.4,3086.8 L1212.2,3088.0 L1216.1,3089.2 L1219.9,3090.4 L1223.7,3091.6 L1227.5,3092.7 L1231.4,3094.0 L1235.2,3095.2 L1239.0,3096.4 L1242.8,3097.7 L1246.5,3099.1 L1250.2,3100.6 L1253.9,3102.1 L1257.6,3103.7 L1261.3,3105.3 L1264.9,3106.9 L1268.6,3108.6 L1272.3,3110.2 L1275.9,3111.9 L1279.5,3113.6 L1283.1,3115.4 L1286.6,3117.3 L1290.1,3119.3 L1293.6,3121.2 L1297.1,3123.2 L1300.5,3125.2 L1304.0,3127.2 L1307.5,3129.2 L1311.0,3131.2 L1314.4,3133.2 L1317.9,3135.2 L1321.4,3137.1 L1324.9,3139.1 L1328.4,3141.0 L1331.9,3143.0 L1335.4,3145.0 L1338.8,3147.0 L1342.2,3149.1 L1345.7,3151.2 L1349.1,3153.2 L1352.5,3155.3 L1356.0,3157.4 L1359.4,3159.4 L1362.8,3161.5 L1366.3,3163.6 L1369.7,3165.6 L1373.1,3167.6 L1376.6,3169.6 L1380.1,3171.7 L1383.5,3173.7 L1387.0,3175.8 L1390.4,3177.8 L1393.8,3180.0 L1397.1,3182.2 L1400.4,3184.5 L1403.6,3186.9 L1406.7,3189.4 L1409.9,3191.8 L1413.0,3194.3 L1416.2,3196.7 L1419.5,3199.1 L1422.7,3201.4 L1426.0,3203.7 L1429.3,3206.0 L1432.6,3208.3 L1435.9,3210.5 L1439.2,3212.8 L1442.5,3215.0 L1445.8,3217.2 L1449.2,3219.5 L1452.5,3221.7 L1455.9,3223.9 L1459.3,3226.0 L1462.8,3227.9 L1466.3,3229.7 L1469.9,3231.5 L1473.5,3233.4 L1477.0,3235.2 L1480.6,3237.0 L1484.2,3238.8 L1487.7,3240.6 L1491.3,3242.5 L1494.9,3244.3 L1498.4,3246.1 L1502.0,3247.9 L1505.6,3249.7 L1509.1,3251.5 L1512.6,3253.2 L1515.8,3254.5 L1518.7,3255.0 L1520.0,3255.0" fill="none" stroke="#f20606" stroke-width="18"/>
<path d="M316.0,2955.0a12.5,12.5 0 1,0 25,0a12.5,12.5 0 1,0 -25,0zM332.7,2955.4a12.5,12.5 0 1,0 25,0a12.5,12.5 0 1,0 -25,0zM349.3,2955.9a12.5,12.5 0 1,0 25,0a12.5,12.5 0 1,0 -25,0zM366.0,2956.3a12.5,12.5 0 1,0 25,0a12.5,12.5 0 1,0 -25,0zM382.7,2956.7a12.5,12.5 0 1,0 25,0a12.5,12.5 0 1,0 -25,0zM399.3,2957.2a12.5,12.5 0 1,0 25,0a12.5,12.5 0 1,0 -25,0zM416.0,2957.6a12.5,12.5 0 1,0 25,0a12.5,12.5 0 1,0 -25,0zM432.7,2958.2a12.5,12.5 0 1,0 25,0a12.5,12.5 0 1,0 -25,0zM449.3,2958.8a12.5,12.5 0 1,0 25,0a12.5,12.5 0 1,0 -25,0zM466.0,2959.6a12.5,12.5 0 1,0 25,0a12.5,12.5 0 1,0 -25,0zM482.7,2960.3a12.5,12.5 0 1,0 25,0a12.5,12.5 0 1,0 -25,0zM499.3,2961.2a12.5,12.5 0 1,0 25,0a12.5,12.5 0 1,0 -25,0zM516.0,2962.0a12.5,12.5 0 1,0 25,0a12.5,12.5 0 1,0 -25,0zM532.7,2962.9a12.5,12.5 0 1,0 25,0a12.5,12.5 0 1,0 -25,0zM549.3,2963.9a12.5,12.5 0 1,0 25,0a12.5,12.5 0 1,0 -25,0zM566.0,2964.9a12.5,12.5 0 1,0 25,0a12.5,12.5 0 1,0 -25,0zM582.7,2965.9a12.5,12.5 0 1,0 25,0a12.5,12.5 0 1,0 -25,0zM599.3,2967.0a12.5,12.5 0 1,0 25,0a12.5,12.5 0 1,0 -25,0zM616.0,2968.1a12.5,12.5 0 1,0 25,0a12.5,12.5 0 1,0 -25,0zM632.7,2969.2a12.5,12.5 0 1,0 25,0a12.5,12.5 0 1,0 -25,0zM649.3,2970.3a12.5,12.5 0 1,0 25,0a12.5,12.5 0 1,0 -25,0zM666.0,2971.4a12.5,12.5 0 1,0 25,0a12.5,12.5 0 1,0 -25,0zM682.7,2972.6a12.5,12.5 0 1,0 25,0a12.5,12.5 0 1,0 -25,0zM699.3,2973.9a12.5,12.5 0 1,0 25,0a12.5,12.5 0 1,0 -25,0zM716.0,2975.4a12.5,12.5 0 1,0 25,0a12.5,12.5 0 1,0 -25,0zM732.7,2977.0a12.5,12.5 0 1,0 25,0a12.5,12.5 0 1,0 -25,0zM749.3,2978.9a12.5,12.5 0 1,0 25,0a12.5,12.5 0 1,0 -25,0zM766.0,2980.8a12.5,12.5 0 1,0 25,0a12.5,12.5 0 1,0 -25,0zM782.7,2983.0a12.5,12.5 0 1,0 25,0a12.5,12.5 0 1,0 -25,0zM799.3,2985.2a12.5,12.5 0 1,0 25,0a12.5,12.5 0 1,0 -25,0zM816.0,2987.6a12.5,12.5 0 1,0 25,0a12.5,12.5 0 1,0 -25,0zM832.7,2990.2a12.5,12.5 0 1,0 25,0a12.5,12.5 0 1,0 -25,0zM849.3,2992.8a12.5,12.5 0 1,0 25,0a12.5,12.5 0 1,0 -25,0zM866.0,2995.7a12.5,12.5 0 1,0 25,0a12.5,12.5 0 1,0 -25,0zM882.7,2998.6a12.5,12.5 0 1,0 25,0a12.5,12.5 0 1,0 -25,0zM899.3,3001.8a12.5,12.5 0 1,0 25,0a12.5,12.5 0 1,0 -25,0zM916.0,3005.2a12.5,12.5 0 1,0 25,0a12.5,12.5 0 1,0 -25,0zM932.7,3009.0a12.5,12.5 0 1,0 25,0a12.5,12.5 0 1,0 -25,0zM949.3,3012.9a12.5,12.5 0 1,0 25,0a12.5,12.5 0 1,0 -25,0zM966.0,3017.1a12.5,12.5 0 1,0 25,0a12.5,12.5 0 1,0 -25,0zM982.7,3021.3a12.5,12.5 0 1,0 25,0a12.5,12.5 0 1,0 -25,0zM999.3,3025.6a12.5,12.5 0 1,0 25,0a12.5,12.5 0 1,0 -25,0zM1016.0,3030.0a12.5,12.5 0 1,0 25,0a12.5,12.5 0 1,0 -25,0zM1032.7,3034.8a12.5,12.5 0 1,0 25,0a12.5,12.5 0 1,0 -25,0zM1049.3,3039.8a12.5,12.5 0 1,0 25,0a12.5,12.5 0 1,0 -25,0zM1066.0,3044.9a12.5,12.5 0 1,0 25,0a12.5,12.5 0 1,0 -25,0zM1082.7,3050.2a12.5,12.5 0 1,0 25,0a12.5,12.5 0 1,0 -25,0zM1099.3,3055.6a12.5,12.5 0 1,0 25,0a12.5,12.5 0 1,0 -25,0zM1116.0,3061.0a12.5,12.5 0 1,0 25,0a12.5,12.5 0 1,0 -25,0zM1132.7,3066.5a12.5,12.5 0 1,0 25,0a12.5,12.5 0 1,0 -25,0zM1149.3,3072.0a12.5,12.5 0 1,0 25,0a12.5,12.5 0 1,0 -25,0zM1166.0,3077.6a12.5,12.5 0 1,0 25,0a12.5,12.5 0 1,0 -25,0zM1182.7,3082.7a12.5,12.5 0 1,0 25,0a12.5,12.5 0 1,0 -25,0zM1199.3,3087.9a12.5,12.5 0 1,0 25,0a12.5,12.5 0 1,0 -25,0zM1216.0,3093.0a12.5,12.5 0 1,0 25,0a12.5,12.5 0 1,0 -25,0zM1232.7,3098.6a12.5,12.5 0 1,0 25,0a12.5,12.5 0 1,0 -25,0zM1249.3,3105.5a12.5,12.5 0 1,0 25,0a12.5,12.5 0 1,0 -25,0zM1266.0,3113.1a12.5,12.5 0 1,0 25,0a12.5,12.5 0 1,0 -25,0zM1282.7,3122.1a12.5,12.5 0 1,0 25,0a12.5,12.5 0 1,0 -25,0zM1299.3,3131.7a12.5,12.5 0 1,0 25,0a12.5,12.5 0 1,0 -25,0zM1316.0,3141.0a12.5,12.5 0 1,0 25,0a12.5,12.5 0 1,0 -25,0zM1332.7,3150.8a12.5,12.5 0 1,0 25,0a12.5,12.5 0 1,0 -25,0zM1349.3,3160.9a12.5,12.5 0 1,0 25,0a12.5,12.5 0 1,0 -25,0zM1366.0,3170.8a12.5,12.5 0 1,0 25,0a12.5,12.5 0 1,0 -25,0zM1382.7,3180.8a12.5,12.5 0 1,0 25,0a12.5,12.5 0 1,0 -25,0zM1399.3,3193.4a12.5,12.5 0 1,0 25,0a12.5,12.5 0 1,0 -25,0zM1416.0,3205.5a12.5,12.5 0 1,0 25,0a12.5,12.5 0 1,0 -25,0zM1432.7,3216.8a12.5,12.5 0 1,0 25,0a12.5,12.5 0 1,0 -25,0zM1449.3,3227.5a12.5,12.5 0 1,0 25,0a12.5,12.5 0 1,0 -25,0zM1466.0,3235.9a12.5,12.5 0 1,0 25,0a12.5,12.5 0 1,0 -25,0zM1482.7,3244.5a12.5,12.5 0 1,0 25,0a12.5,12.5 0 1,0 -25,0zM1499.3,3252.9a12.5,12.5 0 1,0 25,0a12.5,12.5 0 1,0 -25,0z" fill="#f20606"/>
<path d="M330.0,2676.0 L334.0,2675.9 L338.0,2675.9 L342.0,2675.8 L346.0,2675.7 L350.0,2675.7 L354.0,2675.6 L358.0,2675.5 L362.0,2675.5 L366.0,2675.4 L370.0,2675.3 L374.0,2675.3 L378.0,2675.2 L382.0,2675.2 L386.0,2675.1 L390.0,2675.1 L394.0,2675.1 L398.0,2675.0 L402.0,2675.0 L406.0,2675.0 L410.0,2675.0 L414.0,2675.0 L418.0,2674.9 L422.0,2674.9 L426.0,2674.9 L430.0,2674.9 L434.0,2674.9 L438.0,2674.9 L442.0,2674.8 L446.1,2674.8 L450.1,2674.8 L454.1,2674.8 L458.1,2674.8 L462.1,2674.8 L466.1,2674.8 L470.1,2674.8 L474.1,2674.8 L478.1,2674.9 L482.1,2674.9 L486.1,2674.9 L490.1,2675.0 L494.1,2675.1 L498.1,2675.1 L502.1,2675.3 L506.1,2675.4 L510.1,2675.6 L514.1,2675.8 L518.1,2676.1 L522.0,2676.4 L526.0,2676.9 L530.0,2677.5 L533.9,2678.2 L537.8,2678.9 L541.8,2679.7 L545.7,2680.4 L549.7,2681.1 L553.6,2681.6 L557.6,2682.1 L561.6,2682.6 L565.5,2683.1 L569.5,2683.6 L573.5,2684.0 L577.5,2684.5 L581.4,2684.9 L585.4,2685.4 L589.4,2685.8 L593.4,2686.3 L597.3,2686.7 L601.3,2687.2 L605.3,2687.7 L609.3,2688.2 L613.2,2688.7 L617.2,2689.3 L621.2,2689.9 L625.1,2690.4 L629.1,2691.1 L633.0,2691.7 L637.0,2692.4 L640.9,2693.0 L644.8,2693.7 L648.8,2694.4 L652.7,2695.1 L656.7,2695.9 L660.6,2696.6 L664.5,2697.4 L668.4,2698.2 L672.4,2699.0 L676.3,2699.8 L680.2,2700.6 L684.1,2701.5 L688.0,2702.4 L691.9,2703.3 L695.8,2704.2 L699.7,2705.2 L703.5,2706.3 L707.4,2707.3 L711.2,2708.4 L715.1,2709.6 L718.9,2710.7 L722.7,2712.0 L726.5,2713.2 L730.3,2714.5 L734.1,2715.8 L737.8,2717.2 L741.6,2718.6 L745.4,2720.0 L749.1,2721.4 L752.8,2722.8 L756.6,2724.2 L760.3,2725.7 L764.0,2727.2 L767.7,2728.6 L771.4,2730.2 L775.1,2731.7 L778.8,2733.2 L782.5,2734.8 L786.2,2736.4 L789.8,2738.0 L793.5,2739.7 L797.1,2741.3 L800.8,2743.0 L804.4,2744.7 L808.0,2746.4 L811.6,2748.1 L815.2,2749.9 L818.8,2751.7 L822.4,2753.5 L825.9,2755.3 L829.4,2757.2 L833.0,2759.1 L836.5,2761.0 L840.0,2762.9 L843.5,2764.8 L847.0,2766.8 L850.5,2768.7 L854.0,2770.6 L857.6,2772.5 L861.1,2774.5 L864.6,2776.4 L868.1,2778.3 L871.6,2780.1 L875.2,2782.0 L878.7,2783.9 L882.3,2785.7 L885.8,2787.6 L889.4,2789.4 L892.9,2791.3 L896.5,2793.1 L900.0,2795.0 L903.6,2796.8 L907.1,2798.7 L910.6,2800.6 L914.1,2802.5 L917.6,2804.5 L921.1,2806.4 L924.6,2808.4 L928.1,2810.3 L931.6,2812.3 L935.0,2814.4 L938.5,2816.4 L941.9,2818.4 L945.4,2820.5 L948.8,2822.5 L952.2,2824.6 L955.6,2826.7 L959.1,2828.7 L962.5,2830.8 L965.9,2832.9 L969.3,2835.0 L972.7,2837.1 L976.1,2839.2 L979.5,2841.3 L982.9,2843.4 L986.3,2845.5 L989.7,2847.6 L993.1,2849.8 L996.5,2851.9 L999.9,2854.0 L1003.3,2856.2 L1006.6,2858.3 L1010.0,2860.5 L1013.4,2862.6 L1016.8,2864.8 L1020.2,2866.9 L1023.5,2869.1 L1026.9,2871.2 L1030.3,2873.4 L1033.7,2875.5 L1037.0,2877.7 L1040.4,2879.8 L1043.8,2882.0 L1047.2,2884.1 L1050.5,2886.3 L1053.9,2888.4 L1057.3,2890.6 L1060.7,2892.7 L1064.0,2894.8 L1067.4,2897.0 L1070.8,2899.1 L1074.2,2901.3 L1077.6,2903.4 L1080.9,2905.6 L1084.3,2907.7 L1087.7,2909.9 L1091.1,2912.0 L1094.5,2914.1 L1097.9,2916.2 L1101.2,2918.4 L1104.5,2920.7 L1107.7,2923.1 L1110.9,2925.4 L1114.1,2927.8 L1117.4,2930.2 L1120.6,2932.6 L1123.8,2935.0 L1127.0,2937.4 L1130.2,2939.8 L1133.4,2942.2 L1136.5,2944.7 L1139.6,2947.2 L1142.6,2949.8 L1145.8,2952.3 L1149.0,2954.6 L1152.4,2956.8 L1155.8,2958.8 L1159.3,2960.9 L1162.7,2963.0 L1166.1,2965.1 L1169.5,2967.2 L1172.9,2969.3 L1176.3,2971.4 L1179.7,2973.5 L1183.1,2975.7 L1186.4,2977.8 L1189.8,2979.9 L1193.2,2982.1 L1196.5,2984.4 L1199.8,2986.7 L1203.0,2989.0 L1206.3,2991.3 L1209.5,2993.7 L1212.8,2996.0 L1216.0,2998.4 L1219.3,3000.7 L1222.5,3003.0 L1225.8,3005.4 L1229.0,3007.7 L1232.2,3010.0 L1235.5,3012.4 L1238.7,3014.8 L1241.9,3017.2 L1245.0,3019.7 L1248.1,3022.3 L1251.1,3024.8 L1254.2,3027.4 L1257.3,3029.9 L1260.4,3032.4 L1263.5,3035.0 L1266.6,3037.5 L1269.7,3040.0 L1272.8,3042.6 L1275.9,3045.1 L1279.0,3047.7 L1282.1,3050.2 L1285.2,3052.7 L1288.3,3055.3 L1291.4,3057.8 L1294.5,3060.4 L1297.5,3062.9 L1300.6,3065.5 L1303.7,3068.0 L1306.8,3070.5 L1310.0,3073.0 L1313.1,3075.5 L1316.2,3078.0 L1319.3,3080.6 L1322.4,3083.1 L1325.5,3085.6 L1328.6,3088.2 L1331.7,3090.7 L1334.7,3093.3 L1337.8,3095.9 L1340.8,3098.5 L1343.9,3101.1 L1346.9,3103.7 L1350.0,3106.3 L1353.0,3108.9 L1356.0,3111.5 L1359.1,3114.1 L1362.1,3116.7 L1365.1,3119.3 L1368.2,3121.9 L1371.2,3124.5 L1374.3,3127.1 L1377.3,3129.7 L1380.4,3132.3 L1383.4,3134.9 L1386.4,3137.6 L1389.4,3140.2 L1392.5,3142.8 L1395.5,3145.3 L1398.6,3147.9 L1401.8,3150.4 L1404.9,3152.8 L1408.1,3155.3 L1411.2,3157.7 L1413.9,3159.8 L1416.3,3161.6 L1418.7,3163.6 L1421.6,3166.0 L1424.7,3168.5 L1427.7,3171.1 L1430.8,3173.7 L1433.9,3176.2 L1436.9,3178.8 L1440.0,3181.4 L1443.1,3183.9 L1446.2,3186.5 L1449.2,3189.1 L1452.3,3191.6 L1455.4,3194.2 L1458.5,3196.7 L1461.7,3199.1 L1464.9,3201.5 L1468.1,3203.8 L1471.4,3206.2 L1474.6,3208.5 L1477.9,3210.9 L1481.1,3213.2 L1484.4,3215.5 L1487.6,3217.8 L1490.9,3220.1 L1494.3,3222.3 L1497.6,3224.5 L1501.0,3226.7 L1504.3,3228.8 L1507.7,3231.0 L1511.1,3233.1 L1514.5,3235.0 L1518.1,3236.5 L1520.0,3237.0" fill="none" stroke="#7c0208" stroke-width="15"/>
<path d="M317.5,2665.0h22v22h-22zM334.2,2664.8h22v22h-22zM350.8,2664.5h22v22h-22zM367.5,2664.2h22v22h-22zM384.2,2664.1h22v22h-22zM400.8,2664.0h22v22h-22zM417.5,2663.8h22v22h-22zM434.2,2663.7h22v22h-22zM450.8,2663.6h22v22h-22zM467.5,2663.7h22v22h-22zM484.2,2664.0h22v22h-22zM500.8,2664.6h22v22h-22zM517.5,2666.6h22v22h-22zM534.2,2669.4h22v22h-22zM550.8,2671.7h22v22h-22zM567.5,2673.6h22v22h-22zM584.2,2675.5h22v22h-22zM600.8,2677.5h22v22h-22zM617.5,2680.0h22v22h-22zM634.2,2682.8h22v22h-22zM650.8,2685.8h22v22h-22zM667.5,2689.2h22v22h-22zM684.2,2693.1h22v22h-22zM700.8,2697.6h22v22h-22zM717.5,2702.9h22v22h-22zM734.2,2708.9h22v22h-22zM750.8,2715.3h22v22h-22zM767.5,2722.1h22v22h-22zM784.2,2729.4h22v22h-22zM800.8,2737.2h22v22h-22zM817.5,2745.7h22v22h-22zM834.2,2754.7h22v22h-22zM850.8,2763.9h22v22h-22zM867.5,2772.7h22v22h-22zM884.2,2781.4h22v22h-22zM900.8,2790.3h22v22h-22zM917.5,2799.6h22v22h-22zM934.2,2809.3h22v22h-22zM950.8,2819.4h22v22h-22zM967.5,2829.7h22v22h-22zM984.2,2840.1h22v22h-22zM1000.8,2850.6h22v22h-22zM1017.5,2861.2h22v22h-22zM1034.2,2871.8h22v22h-22zM1050.8,2882.4h22v22h-22zM1067.5,2893.0h22v22h-22zM1084.2,2903.5h22v22h-22zM1100.8,2915.1h22v22h-22zM1117.5,2927.4h22v22h-22zM1134.2,2941.0h22v22h-22zM1150.8,2951.4h22v22h-22zM1167.5,2961.8h22v22h-22zM1184.2,2972.4h22v22h-22zM1200.8,2984.3h22v22h-22zM1217.5,2996.3h22v22h-22zM1234.2,3008.9h22v22h-22zM1250.8,3022.6h22v22h-22zM1267.5,3036.2h22v22h-22zM1284.2,3050.0h22v22h-22zM1300.8,3063.6h22v22h-22zM1317.5,3077.1h22v22h-22zM1334.2,3091.2h22v22h-22zM1350.8,3105.5h22v22h-22zM1367.5,3119.7h22v22h-22zM1384.2,3134.1h22v22h-22zM1400.8,3147.2h22v22h-22zM1417.5,3160.8h22v22h-22zM1434.2,3174.7h22v22h-22zM1450.8,3188.2h22v22h-22zM1467.5,3200.4h22v22h-22zM1484.2,3211.9h22v22h-22zM1500.8,3222.6h22v22h-22z" fill="#7c0208"/>
</g>
<rect x="328.5" y="2642.5" width="1198.5" height="981.0" fill="none" stroke="#141414" stroke-width="9"/>
<path d="M328.5,3623.5V3647.5 M328.5,3623.5H304.5 M388.7,3623.5V3637.5 M328.5,3575.6H314.5 M423.9,3623.5V3637.5 M328.5,3547.6H314.5 M448.9,3623.5V3637.5 M328.5,3527.7H314.5 M468.3,3623.5V3637.5 M328.5,3512.3H314.5 M484.1,3623.5V3637.5 M328.5,3499.7H314.5 M497.5,3623.5V3637.5 M328.5,3489.1H314.5 M509.1,3623.5V3637.5 M328.5,3479.8H314.5 M519.3,3623.5V3637.5 M328.5,3471.7H314.5 M528.5,3623.5V3647.5 M328.5,3464.4H304.5 M588.7,3623.5V3637.5 M328.5,3416.5H314.5 M623.9,3623.5V3637.5 M328.5,3388.5H314.5 M648.9,3623.5V3637.5 M328.5,3368.6H314.5 M668.3,3623.5V3637.5 M328.5,3353.2H314.5 M684.1,3623.5V3637.5 M328.5,3340.6H314.5 M697.5,3623.5V3637.5 M328.5,3330.0H314.5 M709.1,3623.5V3637.5 M328.5,3320.8H314.5 M719.3,3623.5V3637.5 M328.5,3312.6H314.5 M728.5,3623.5V3647.5 M328.5,3305.3H304.5 M788.7,3623.5V3637.5 M328.5,3257.4H314.5 M823.9,3623.5V3637.5 M328.5,3229.4H314.5 M848.9,3623.5V3637.5 M328.5,3209.6H314.5 M868.3,3623.5V3637.5 M328.5,3194.1H314.5 M884.1,3623.5V3637.5 M328.5,3181.5H314.5 M897.5,3623.5V3637.5 M328.5,3170.9H314.5 M909.1,3623.5V3637.5 M328.5,3161.7H314.5 M919.3,3623.5V3637.5 M328.5,3153.5H314.5 M928.5,3623.5V3647.5 M328.5,3146.2H304.5 M988.7,3623.5V3637.5 M328.5,3098.4H314.5 M1023.9,3623.5V3637.5 M328.5,3070.3H314.5 M1048.9,3623.5V3637.5 M328.5,3050.5H314.5 M1068.3,3623.5V3637.5 M328.5,3035.1H314.5 M1084.1,3623.5V3637.5 M328.5,3022.5H314.5 M1097.5,3623.5V3637.5 M328.5,3011.8H314.5 M1109.1,3623.5V3637.5 M328.5,3002.6H314.5 M1119.3,3623.5V3637.5 M328.5,2994.4H314.5 M1128.5,3623.5V3647.5 M328.5,2987.2H304.5 M1188.7,3623.5V3637.5 M328.5,2939.3H314.5 M1223.9,3623.5V3637.5 M328.5,2911.3H314.5 M1248.9,3623.5V3637.5 M328.5,2891.4H314.5 M1268.3,3623.5V3637.5 M328.5,2876.0H314.5 M1284.1,3623.5V3637.5 M328.5,2863.4H314.5 M1297.5,3623.5V3637.5 M328.5,2852.7H314.5 M1309.1,3623.5V3637.5 M328.5,2843.5H314.5 M1319.3,3623.5V3637.5 M328.5,2835.4H314.5 M1328.5,3623.5V3647.5 M328.5,2828.1H304.5 M1388.7,3623.5V3637.5 M328.5,2780.2H314.5 M1423.9,3623.5V3637.5 M328.5,2752.2H314.5 M1448.9,3623.5V3637.5 M328.5,2732.3H314.5 M1468.3,3623.5V3637.5 M328.5,2716.9H314.5 M1484.1,3623.5V3637.5 M328.5,2704.3H314.5 M1497.5,3623.5V3637.5 M328.5,2693.6H314.5 M1509.1,3623.5V3637.5 M328.5,2684.4H314.5 M1519.3,3623.5V3637.5 M328.5,2676.3H314.5 M1528.5,3623.5V3647.5 M328.5,2669.0H304.5" stroke="#141414" stroke-width="7" fill="none"/>
<g font-family="'Liberation Sans',Arial,sans-serif" font-weight="bold" fill="#0a0a0a">
<text x="266" y="156.0" font-size="74" text-anchor="end">1</text>
<text x="266" y="461.7" font-size="74" text-anchor="end">0</text>
<text x="266" y="767.3" font-size="74" text-anchor="end">-1</text>
<text x="266" y="1073.0" font-size="74" text-anchor="end">-2</text>
<text x="301.0" y="1145.5" font-size="74" text-anchor="middle">-8</text>
<text x="473.6" y="1145.5" font-size="74" text-anchor="middle">-7</text>
<text x="646.1" y="1145.5" font-size="74" text-anchor="middle">-6</text>
<text x="818.7" y="1145.5" font-size="74" text-anchor="middle">-5</text>
<text x="991.3" y="1145.5" font-size="74" text-anchor="middle">-4</text>
<text x="1163.9" y="1145.5" font-size="74" text-anchor="middle">-3</text>
<text x="1336.4" y="1145.5" font-size="74" text-anchor="middle">-2</text>
<text x="1509.0" y="1145.5" font-size="74" text-anchor="middle">-1</text>
<text x="1323" y="193.5" font-size="80" textLength="96" lengthAdjust="spacingAndGlyphs" font-weight="normal" stroke="#0a0a0a" stroke-width="2.5">(a)</text>
<text x="504" y="1290" font-size="75" textLength="730" lengthAdjust="spacingAndGlyphs">Log(Current) (A.cm</text>
<text x="1243.5" y="1244" font-size="41">-2</text>
<text x="1285" y="1290" font-size="68">)</text>
<text transform="translate(122.5,1062) rotate(-90)" font-size="81" textLength="1020" lengthAdjust="spacingAndGlyphs">Potential (V w.r.t. Ag/AgCl)</text>
<text x="266" y="1386.8" font-size="74" text-anchor="end">0.2</text>
<text x="266" y="1668.5" font-size="74" text-anchor="end">0.1</text>
<text x="266" y="1950.2" font-size="74" text-anchor="end">0.0</text>
<text x="266" y="2231.9" font-size="74" text-anchor="end">-0.1</text>
<text x="310.0" y="2448.5" font-size="74" text-anchor="middle">0</text>
<text x="610.0" y="2448.5" font-size="74" text-anchor="middle">300</text>
<text x="910.0" y="2448.5" font-size="74" text-anchor="middle">600</text>
<text x="1210.0" y="2448.5" font-size="74" text-anchor="middle">900</text>
<text x="1510.0" y="2448.5" font-size="74" text-anchor="middle">1200</text>
<text x="597" y="1888" font-size="71" textLength="222" lengthAdjust="spacingAndGlyphs">ODPA</text>
<text x="597" y="1987" font-size="71" textLength="261" lengthAdjust="spacingAndGlyphs">PFDPA</text>
<text x="597" y="2083" font-size="71" textLength="760" lengthAdjust="spacingAndGlyphs">Commercial coating</text>
<text x="597" y="2182" font-size="71" textLength="172" lengthAdjust="spacingAndGlyphs">Bare</text>
<text x="1303" y="1524.5" font-size="80" textLength="99" lengthAdjust="spacingAndGlyphs" font-weight="normal" stroke="#0a0a0a" stroke-width="2.5">(b)</text>
<clipPath id="cb"><rect x="700" y="2480" width="420" height="98"/></clipPath>
<g clip-path="url(#cb)"><text x="759" y="2577" font-size="77" textLength="302" lengthAdjust="spacingAndGlyphs">Time (s)</text></g>
<text transform="translate(92.5,2196) rotate(-90)" font-size="80.5" textLength="829" lengthAdjust="spacingAndGlyphs">OCP (V w.r.t Ag/AgCl)</text>
<text x="262" y="3653.9" font-size="74" text-anchor="end">10</text>
<text x="271" y="3608.5" font-size="41">0</text>
<text x="274.5" y="3734" font-size="74">10</text>
<text x="360.0" y="3693" font-size="41">0</text>
<text x="262" y="3494.8" font-size="74" text-anchor="end">10</text>
<text x="271" y="3449.4" font-size="41">1</text>
<text x="474.5" y="3734" font-size="74">10</text>
<text x="560.0" y="3693" font-size="41">1</text>
<text x="262" y="3335.7" font-size="74" text-anchor="end">10</text>
<text x="271" y="3290.3" font-size="41">2</text>
<text x="674.5" y="3734" font-size="74">10</text>
<text x="760.0" y="3693" font-size="41">2</text>
<text x="262" y="3176.7" font-size="74" text-anchor="end">10</text>
<text x="271" y="3131.2" font-size="41">3</text>
<text x="874.5" y="3734" font-size="74">10</text>
<text x="960.0" y="3693" font-size="41">3</text>
<text x="262" y="3017.6" font-size="74" text-anchor="end">10</text>
<text x="271" y="2972.2" font-size="41">4</text>
<text x="1074.5" y="3734" font-size="74">10</text>
<text x="1160.0" y="3693" font-size="41">4</text>
<text x="262" y="2858.5" font-size="74" text-anchor="end">10</text>
<text x="271" y="2813.1" font-size="41">5</text>
<text x="1274.5" y="3734" font-size="74">10</text>
<text x="1360.0" y="3693" font-size="41">5</text>
<text x="262" y="2699.4" font-size="74" text-anchor="end">10</text>
<text x="271" y="2654.0" font-size="41">6</text>
<text x="1474.5" y="3734" font-size="74">10</text>
<text x="1560.0" y="3693" font-size="41">6</text>
<text x="1344" y="2750.3" font-size="79" textLength="91" lengthAdjust="spacingAndGlyphs" font-weight="normal" stroke="#0a0a0a" stroke-width="2.5">(c)</text>
<text x="639" y="3863" font-size="75" textLength="576" lengthAdjust="spacingAndGlyphs">Frequency (Hz)</text>
<text transform="translate(98.8,3605) rotate(-90)" font-size="79" textLength="917" lengthAdjust="spacingAndGlyphs">Log(Impedance) (Ohms)</text>
</g>
</svg></body></html>
